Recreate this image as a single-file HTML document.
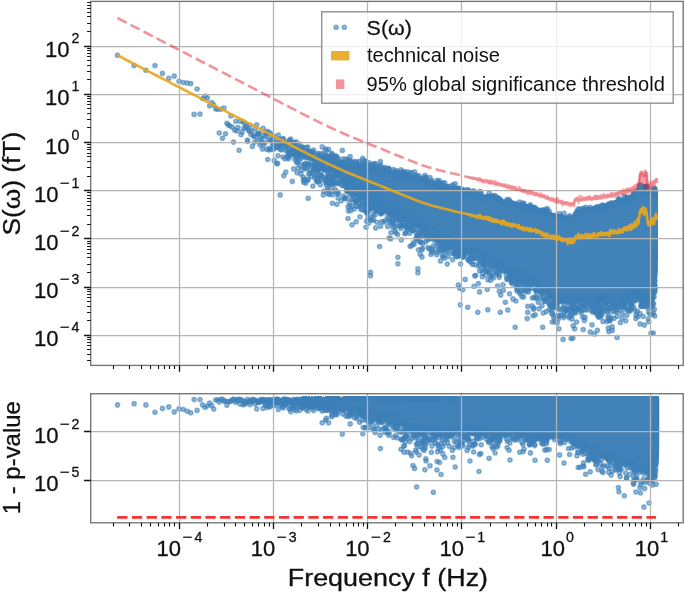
<!DOCTYPE html>
<html><head><meta charset="utf-8"><title>S(ω) spectrum</title>
<style>html,body{margin:0;padding:0;background:#fff}svg{display:block}text{font-family:"Liberation Sans",sans-serif}</style></head>
<body>
<svg width="685" height="593" viewBox="0 0 685 593">
<defs>
<marker id="m" markerUnits="userSpaceOnUse" markerWidth="8" markerHeight="8" refX="4" refY="4" overflow="visible"><circle cx="4" cy="4" r="2" fill="#3e81b9" fill-opacity=".52" stroke="#3e81b9" stroke-opacity=".6" stroke-width="1.6"/></marker>
<clipPath id="ct"><rect x="90.7" y="1.4" width="592.5" height="364"/></clipPath>
<clipPath id="cb"><rect x="90.7" y="393.7" width="592.5" height="129.1"/></clipPath>
</defs>
<rect width="685" height="593" fill="#fff"/>
<g clip-path="url(#ct)">
<path fill="#4182b8" shape-rendering="crispEdges" d="M300 150.5v4h1v-4zM307 153v4h1v-4zM308 151.5v4h1v-4zM309 151.5v3.5h1v-3.5zM309 155.5v3.5h1v-3.5zM310 151.5v7h1v-7zM311 151.5v8.5h1v-8.5zM312 153.5v6.5h1v-6.5zM313 156v3.5h1v-3.5zM318 157v3h1v-3zM319 156.5v4.5h1v-4.5zM320 156v6h1v-6zM321 156.5v6h1v-6zM322 156.5v6.5h1v-6.5zM323 156.5v7h1v-7zM324 156.5v7h1v-7zM324 167v3.5h1v-3.5zM325 157.5v6h1v-6zM325 167v3h1v-3zM326 156.5v5h1v-5zM328 167v3h1v-3zM329 166.5v4.5h1v-4.5zM330 166v5.5h1v-5.5zM331 166.5v5h1v-5zM332 158.5v12h1v-12zM333 157v7h1v-7zM333 164.5v5.5h1v-5.5zM334 160.5v10h1v-10zM335 161.5v11h1v-11zM336 163v10h1v-10zM337 163v13h1v-13zM338 162.5v14h1v-14zM339 163v14h1v-14zM340 162.5v16.5h1v-16.5zM341 161v19h1v-19zM342 162.5v18h1v-18zM343 162.5v18.5h1v-18.5zM344 164v21.5h1v-21.5zM345 164.5v21.5h1v-21.5zM346 165v21h1v-21zM347 165.5v26.5h1v-26.5zM348 165v15h1v-15zM348 180.5v3h1v-3zM348 187.5v5.5h1v-5.5zM349 164v15.5h1v-15.5zM349 180v5h1v-5zM349 187.5v5.5h1v-5.5zM350 161.5v17.5h1v-17.5zM350 182v4h1v-4zM350 187.5v3.5h1v-3.5zM351 162v19.5h1v-19.5zM351 183v5h1v-5zM352 164v12h1v-12zM352 177.5v10.5h1v-10.5zM353 164.5v24h1v-24zM354 165v24h1v-24zM355 166v22.5h1v-22.5zM356 164.5v25h1v-25zM357 164.5v23.5h1v-23.5zM358 166.5v21.5h1v-21.5zM358 191v6.5h1v-6.5zM359 166.5v32h1v-32zM360 165v25.5h1v-25.5zM360 191.5v7.5h1v-7.5zM361 164.5v26h1v-26zM361 193.5v5.5h1v-5.5zM362 164v26.5h1v-26.5zM362 193v6h1v-6zM363 164v5h1v-5zM363 171v20.5h1v-20.5zM363 193v5.5h1v-5.5zM364 163.5v5.5h1v-5.5zM364 171v27h1v-27zM365 165v3.5h1v-3.5zM365 171.5v25h1v-25zM366 171v25.5h1v-25.5zM366 201.5v3.5h1v-3.5zM367 166v30h1v-30zM367 201v4.5h1v-4.5zM368 165v32.5h1v-32.5zM369 165v33.5h1v-33.5zM370 165v33h1v-33zM371 165v35.5h1v-35.5zM372 167.5v35.5h1v-35.5zM373 167.5v36h1v-36zM374 168v37h1v-37zM375 168.5v26.5h1v-26.5zM375 198.5v7.5h1v-7.5zM376 168v27.5h1v-27.5zM376 201v4.5h1v-4.5zM377 168v28.5h1v-28.5zM377 206.5v3h1v-3zM378 168v29.5h1v-29.5zM378 200.5v9.5h1v-9.5zM379 168.5v29.5h1v-29.5zM379 200.5v10h1v-10zM380 168v29.5h1v-29.5zM380 201v9.5h1v-9.5zM381 168.5v34.5h1v-34.5zM381 205.5v3h1v-3zM382 169v32h1v-32zM382 204v3.5h1v-3.5zM382 210v3h1v-3zM383 172v30h1v-30zM383 202.5v5h1v-5zM384 171.5v34h1v-34zM384 206v5h1v-5zM385 169.5v42h1v-42zM386 167.5v43.5h1v-43.5zM387 167.5v44h1v-44zM388 170v42h1v-42zM389 170.5v43h1v-43zM390 174.5v33h1v-33zM390 211v3h1v-3zM391 173.5v33.5h1v-33.5zM392 173v34.5h1v-34.5zM393 173v34.5h1v-34.5zM393 211v3h1v-3zM394 172v35h1v-35zM394 211v4h1v-4zM395 171.5v34h1v-34zM395 209v5h1v-5zM396 172v32.5h1v-32.5zM396 208v6h1v-6zM397 172v32.5h1v-32.5zM397 206v7.5h1v-7.5zM398 172v40.5h1v-40.5zM399 174.5v37.5h1v-37.5zM400 175.5v40.5h1v-40.5zM401 172v3h1v-3zM401 175.5v43h1v-43zM402 171v4.5h1v-4.5zM402 176v43h1v-43zM403 171v49h1v-49zM404 171.5v49h1v-49zM405 171.5v49h1v-49zM406 173v47.5h1v-47.5zM407 174v46.5h1v-46.5zM408 176v39h1v-39zM409 176.5v37h1v-37zM409 219.5v3.5h1v-3.5zM410 177v39h1v-39zM410 217v8h1v-8zM411 176.5v48.5h1v-48.5zM412 176.5v48h1v-48zM413 176.5v48.5h1v-48.5zM414 176v50h1v-50zM415 176v50h1v-50zM416 176v51h1v-51zM417 176.5v51h1v-51zM418 177.5v50.5h1v-50.5zM419 178.5v44h1v-44zM419 223v5h1v-5zM420 179v43h1v-43zM420 223v6h1v-6zM421 179v43.5h1v-43.5zM421 223.5v3.5h1v-3.5zM422 178.5v45.5h1v-45.5zM423 178v48h1v-48zM424 177.5v49.5h1v-49.5zM425 178v49.5h1v-49.5zM426 179v51h1v-51zM427 181v50h1v-50zM428 182v49.5h1v-49.5zM428 234v5h1v-5zM429 181.5v50h1v-50zM429 232.5v6.5h1v-6.5zM430 181.5v50h1v-50zM430 232.5v6.5h1v-6.5zM431 182.5v56h1v-56zM432 182.5v55h1v-55zM433 182.5v54.5h1v-54.5zM434 182.5v53h1v-53zM435 183v52.5h1v-52.5zM436 182.5v53h1v-53zM436 236v3h1v-3zM437 183v57h1v-57zM438 184v52h1v-52zM439 183.5v53h1v-53zM440 184v55.5h1v-55.5zM441 184.5v56h1v-56zM442 184v57.5h1v-57.5zM442 242v4h1v-4zM443 185v61h1v-61zM444 186v62h1v-62zM445 185.5v57.5h1v-57.5zM446 186v55h1v-55zM446 241.5v4.5h1v-4.5zM447 186v55.5h1v-55.5zM448 186.5v54h1v-54zM449 187v54h1v-54zM449 243.5v3h1v-3zM450 187.5v59.5h1v-59.5zM451 188v54.5h1v-54.5zM452 187.5v59h1v-59zM453 188.5v58.5h1v-58.5zM454 188.5v59.5h1v-59.5zM455 188.5v60.5h1v-60.5zM456 189v66h1v-66zM457 189v62.5h1v-62.5zM458 189v62h1v-62zM459 188.5v62.5h1v-62.5zM460 188v64.5h1v-64.5zM461 188.5v63.5h1v-63.5zM462 189v63h1v-63zM463 190v63.5h1v-63.5zM464 190v63.5h1v-63.5zM465 190v63.5h1v-63.5zM466 190.5v63h1v-63zM467 190v63.5h1v-63.5zM468 190v63h1v-63zM469 190.5v63h1v-63zM470 192v61h1v-61zM471 192v61h1v-61zM472 193.5v59.5h1v-59.5zM473 192.5v60.5h1v-60.5zM474 192.5v60h1v-60zM475 192.5v60h1v-60zM476 193v60h1v-60zM477 193v62.5h1v-62.5zM478 193.5v63.5h1v-63.5zM479 193.5v64.5h1v-64.5zM480 194v64.5h1v-64.5zM481 195v63.5h1v-63.5zM482 195v63h1v-63zM482 259.5v3.5h1v-3.5zM483 195.5v69.5h1v-69.5zM484 195.5v69.5h1v-69.5zM485 196v68h1v-68zM486 196.5v63.5h1v-63.5zM487 196v64.5h1v-64.5zM488 195.5v64.5h1v-64.5zM489 195.5v65.5h1v-65.5zM490 195v67h1v-67zM491 195.5v67h1v-67zM492 195.5v66.5h1v-66.5zM493 196v67.5h1v-67.5zM494 196v68.5h1v-68.5zM495 196.5v69h1v-69zM496 197v69h1v-69zM497 197.5v70h1v-70zM498 197.5v72.5h1v-72.5zM499 197.5v73.5h1v-73.5zM500 198.5v72.5h1v-72.5zM501 199.5v65h1v-65zM501 266v5h1v-5zM502 200v71h1v-71zM503 200v71h1v-71zM504 200v72h1v-72zM505 200v71.5h1v-71.5zM506 200v71.5h1v-71.5zM507 200v72h1v-72zM508 200.5v71.5h1v-71.5zM509 201.5v70.5h1v-70.5zM510 201.5v71.5h1v-71.5zM511 202v72h1v-72zM512 202.5v72.5h1v-72.5zM513 203v74.5h1v-74.5zM514 203v76h1v-76zM515 203.5v71.5h1v-71.5zM516 203.5v71h1v-71zM517 203v74.5h1v-74.5zM518 203.5v71.5h1v-71.5zM518 275.5v3h1v-3zM519 204v71h1v-71zM519 275.5v6.5h1v-6.5zM520 203.5v79h1v-79zM521 204v79h1v-79zM522 205v70h1v-70zM522 276v7h1v-7zM523 204.5v78.5h1v-78.5zM524 204.5v79h1v-79zM525 205v78h1v-78zM526 205v78.5h1v-78.5zM526 288v3h1v-3zM527 205.5v75h1v-75zM527 287.5v3.5h1v-3.5zM528 205v75.5h1v-75.5zM529 205v79h1v-79zM530 205.5v79h1v-79zM531 206v79h1v-79zM532 206v78h1v-78zM533 206v78h1v-78zM534 206.5v77.5h1v-77.5zM535 207v77h1v-77zM536 207.5v78h1v-78zM536 286.5v5h1v-5zM537 208v77.5h1v-77.5zM537 286.5v5h1v-5zM538 209v82.5h1v-82.5zM539 209v82h1v-82zM540 209v82h1v-82zM541 209v82h1v-82zM542 209.5v81h1v-81zM543 209v81.5h1v-81.5zM544 209.5v82.5h1v-82.5zM545 209.5v82.5h1v-82.5zM546 210v82.5h1v-82.5zM547 210v83.5h1v-83.5zM548 211v83.5h1v-83.5zM549 212v82.5h1v-82.5zM549 295v3h1v-3zM550 213v83h1v-83zM551 213.5v84.5h1v-84.5zM552 213.5v85h1v-85zM553 214.5v85.5h1v-85.5zM554 215v86h1v-86zM555 215v88.5h1v-88.5zM556 215.5v88h1v-88zM557 215.5v88h1v-88zM558 215.5v87.5h1v-87.5zM559 215v86h1v-86zM560 215.5v85.5h1v-85.5zM561 216v85h1v-85zM562 216.5v84.5h1v-84.5zM563 217v84.5h1v-84.5zM564 217v85h1v-85zM565 217v84.5h1v-84.5zM566 217v85h1v-85zM567 217v85h1v-85zM568 217.5v83.5h1v-83.5zM569 217v83h1v-83zM570 217v83.5h1v-83.5zM571 217v84.5h1v-84.5zM572 216.5v85.5h1v-85.5zM573 215.5v87h1v-87zM573 308v3h1v-3zM574 213.5v88.5h1v-88.5zM574 307.5v4h1v-4zM575 212.5v89h1v-89zM575 307v4.5h1v-4.5zM576 211.5v89.5h1v-89.5zM576 308v3h1v-3zM577 210.5v89.5h1v-89.5zM578 210.5v90.5h1v-90.5zM579 210.5v90.5h1v-90.5zM580 210.5v90h1v-90zM581 209.5v91h1v-91zM582 209v91h1v-91zM583 209v91.5h1v-91.5zM584 209v90h1v-90zM585 209v90.5h1v-90.5zM586 209v92.5h1v-92.5zM587 209v92.5h1v-92.5zM588 208v93.5h1v-93.5zM589 208v94.5h1v-94.5zM590 207.5v96.5h1v-96.5zM591 207.5v98.5h1v-98.5zM592 207.5v98.5h1v-98.5zM593 207.5v97.5h1v-97.5zM594 206.5v99h1v-99zM595 206v99h1v-99zM596 206v100.5h1v-100.5zM597 206v101h1v-101zM598 206.5v101h1v-101zM599 206.5v96h1v-96zM600 205.5v95h1v-95zM601 205.5v95h1v-95zM602 205.5v94.5h1v-94.5zM603 205.5v93.5h1v-93.5zM604 205v98.5h1v-98.5zM605 205v94h1v-94zM605 299.5v4.5h1v-4.5zM606 204.5v93.5h1v-93.5zM606 299v5.5h1v-5.5zM607 204v94h1v-94zM607 299v5h1v-5zM608 203.5v100h1v-100zM609 203v97h1v-97zM610 202.5v100h1v-100zM611 203v100.5h1v-100.5zM612 203v101.5h1v-101.5zM613 202v102h1v-102zM614 202v101.5h1v-101.5zM615 201v101.5h1v-101.5zM616 200.5v102.5h1v-102.5zM617 200v103h1v-103zM618 199.5v104h1v-104zM619 199v104h1v-104zM620 199v104h1v-104zM621 199v104.5h1v-104.5zM622 199v101.5h1v-101.5zM622 301v5.5h1v-5.5zM623 198.5v101.5h1v-101.5zM623 300.5v6.5h1v-6.5zM624 198v102h1v-102zM624 300.5v7h1v-7zM625 197.5v103h1v-103zM625 301.5v5h1v-5zM626 197v103.5h1v-103.5zM627 196.5v103.5h1v-103.5zM628 196.5v104h1v-104zM629 196.5v103.5h1v-103.5zM630 196.5v103h1v-103zM631 195v102.5h1v-102.5zM632 194.5v103.5h1v-103.5zM633 193.5v107.5h1v-107.5zM634 192v109h1v-109zM635 191.5v109.5h1v-109.5zM636 190.5v104h1v-104zM636 296.5v4h1v-4zM637 189.5v104.5h1v-104.5zM638 187v105h1v-105zM639 186v107.5h1v-107.5zM640 185.5v106.5h1v-106.5zM641 185.5v109.5h1v-109.5zM642 186.5v109.5h1v-109.5zM642 296.5v6.5h1v-6.5zM643 187.5v108.5h1v-108.5zM643 296.5v8h1v-8zM644 188.5v117h1v-117zM645 189.5v113.5h1v-113.5zM646 190.5v105.5h1v-105.5zM646 296.5v9h1v-9zM647 190.5v105.5h1v-105.5zM647 296.5v6.5h1v-6.5zM648 190.5v109h1v-109zM649 190v112h1v-112zM650 189.5v112h1v-112zM651 189v109.5h1v-109.5zM652 188.5v110h1v-110zM653 187.5v109.5h1v-109.5zM654 188v107.5h1v-107.5zM655 188.5v104.5h1v-104.5zM656 189v88h1v-88zM657 194v59h1v-59z"/>
<path fill="#4182b8" d="M658 194H656.5Q657.7 194 657.7 195.6V251.4Q657.7 253 656.5 253H658z"/>
<polyline fill="none" stroke="none" marker-start="url(#m)" marker-mid="url(#m)" marker-end="url(#m)" points="117.5,55.3 134.1,65.6 145.9,70.2 155,65.6 162.4,73.4 168.8,78.3 174.2,76.1 179,81.2 183.4,82.6 187.3,83.1 190.8,83.6 194.1,114.4 197.1,89 200,114.1 202.6,98.5 205.1,96.1 207.4,97.9 209.6,105.8 211.7,102.5 213.7,104.7 215.6,108.7 217.5,109.3 219.2,133 220.9,109.3 222.5,138.2 224,108 225.5,133.8 226.9,123.3 228.3,124.7 229.7,126 231,116 232.2,127.1 233.5,142.1 234.6,129.9 235.8,121.3 236.9,130.9 238,127.6 239.1,150.2 240.1,121.3 241.1,134.8 242.1,131.9 243.1,121.8 244,128.3 244.9,123.4 245.8,127.2 246.7,126.1 247.6,141.5 248.4,130.1 249.2,131.1 250.1,125.4 250.9,134.5 251.6,130.8 252.4,146.4 253.1,135.1 253.9,136.8 254.6,142.3 255.3,128.9 256,136.7 256.7,124.7 257.4,133.7 258.1,133.7 258.7,133.5 259.4,133.2 260,145 260.6,137.8 261.2,142.6 261.8,139.1 262.4,149.1 263,128.2 263.6,144.5 264.2,135.5 264.7,142.7 265.3,132.3 265.8,136.5 266.4,149.2 266.9,133.7 267.4,131.2 268,132.7 268.5,139.3 269,149.9 269.5,148.3 270,132.9 270.5,140.5 271,149.5 271.4,134.8 271.9,139.7 272.4,141.1 272.8,145 273.3,144.5 273.8,148.9 274.2,160.4 274.6,136.5 275.1,144.3 275.5,143 275.9,147.8 276.4,139.8 276.8,163.8 277.2,147.2 277.6,163.3 278,155.8 278.4,135 278.8,142.7 279.2,147 279.6,145.4 280,139 280.4,149.4 280.8,144.8 281.1,143.3 281.5,149.7 281.9,146.6 282.3,142.3 282.6,139.1 283,157 283.3,138.6 283.7,175.8 284,143.3 284.4,142.3 284.7,158.7 285.1,150.1 285.4,142.7 285.8,172.1 286.1,146.6 286.4,143.6 286.8,149.1 287.1,145.2 287.4,156.4 287.7,157.6 288,152.9 288.4,158.7 288.7,153.6 289,140.3 289.3,149.1 289.6,154.3 289.9,156.3 290.2,140.7 290.5,152.3 290.8,139.1 291.1,151.1 291.4,151.2 291.7,143.3 292,147.1 292.3,150.4 292.5,153.7 292.8,144.4 293.1,154.3 293.4,143.2 293.7,168.9 293.9,154.3 294.2,152.6 294.5,142.5 294.8,159.6 295,147.1 295.3,150 295.6,149.3 295.8,151.1 296.1,141.9 296.3,158 296.6,156.4 296.9,162.5 297.1,172.8 297.4,162.4 297.6,145.2 297.9,147.6 298.1,168 298.4,152.9 298.6,155.6 298.9,153.3 299.1,152.1 299.3,160.3 299.6,144 299.8,156.5 300.1,153.2 300.3,153.1 300.5,165.4 300.8,173.9 301,158.3 301.2,150.8 301.5,149.7 301.7,151.7 301.9,170.1 302.1,147.1 302.4,150.4 302.6,148.5 302.8,156.6 303,147.4 303.2,177 303.5,179.7 303.7,182.2 303.9,164.3 304.1,164.6 304.3,167.2 304.5,156.4 304.7,179 305,156.1 305.2,168.7 305.4,154.4 305.6,183.1 305.8,163.3 306,147.6 306.2,157.8 306.4,151.8 306.6,155.4 306.8,156.5 307,168.4 307.2,157.4 307.4,180.4 307.6,152.5 307.8,147.1 308,151.3 308.2,179.4 308.4,163.7 308.6,164.4 308.8,173.9 309,157 309.1,153.2 309.3,164.9 309.5,151.6 309.7,153.4 309.9,173.3 310.1,154.3 310.3,151.3 310.5,169.8 310.6,158.9 310.8,157.5 311,158.2 311.2,176.5 311.4,157.2 311.5,158 311.7,153.5 311.9,154.1 312.1,165.8 312.2,156.2 312.4,152.5 312.6,151.8 312.8,172.8 312.9,186.1 313.1,158.2 313.3,170.4 313.5,160.3 313.6,150 313.8,165 314,169.2 314.1,163.1 314.3,158.5 314.5,177.8 314.6,165.4 314.8,175.5 315,158.7 315.1,154.6 315.3,165.8 315.5,166 315.6,161.8 315.8,171.6 315.9,170.4 316.1,167.5 316.3,164 316.4,180.8 316.6,157.2 316.7,161.3 316.9,168.9 317,181.6 317.2,157.2 317.4,177 317.5,177 317.7,177.2 317.8,181.6 318,153.2 318.1,170.6 318.3,169.3 318.4,155.8 318.6,161.1 318.7,174.4 318.9,165.8 319,154.4 319.2,167.6 319.3,159.3 319.5,180.9 319.6,159 319.8,157.8 319.9,156.5 320.1,160.4 320.2,168.1 320.3,184.7 320.5,164.3 320.6,158.6 320.8,175.2 320.9,172 321.1,164.1 321.2,159 321.3,154.7 321.5,179.6 321.6,176 321.8,157.9 321.9,161.8 322,160 322.2,146.9 322.3,153.2 322.5,156.9 322.7,168.5 322.9,162.3 323,176.6 323.4,160.6 323.5,167.5 323.7,169.5 323.8,168.3 323.9,191.2 324.1,157.5 324.2,165.2 324.3,169.5 324.5,165.2 324.6,161 324.7,169.8 324.8,158.2 325,155.1 325.1,169.8 325.2,180.6 325.4,160.3 325.5,149.1 325.6,180.1 325.7,161.7 325.9,158.7 326,155.4 326.1,182.1 326.2,185 326.4,150.5 326.5,182.8 326.6,178.8 326.7,165.4 326.9,168.9 327,161.1 327.1,178.3 327.2,156 327.4,177.1 327.5,160.8 327.6,188.4 327.7,168.5 327.8,193.6 328,173.4 328.1,173.5 328.2,162.4 328.3,169.2 328.4,190.1 328.6,149.3 328.7,157.5 328.8,156.5 328.9,176.5 329,171.3 329.1,177.5 329.3,183.6 329.4,194.4 329.5,168.4 329.6,183.9 329.7,180.4 329.8,158.9 329.9,169.1 330.1,180.1 330.2,164.4 330.3,176.3 330.4,168.1 330.5,175.7 330.6,168.5 330.7,165.7 330.8,168.1 331,172 331.1,161.5 331.2,158.9 331.3,180.9 331.4,183.8 331.5,185.7 331.6,153.2 331.7,156.2 331.8,178.5 331.9,154.3 332.1,179.7 332.2,169.4 332.3,169.7 332.4,157.7 332.5,194.7 332.6,175.4 332.7,167.1 332.8,191.3 332.9,178.8 333,170.9 333.1,159.3 333.2,163.1 333.3,161.2 333.4,163.2 333.5,164.7 333.6,160.6 333.8,165.4 333.9,164 334,176.5 334.1,182.9 334.2,163.6 334.3,183.2 334.4,158.1 334.5,167.9 334.6,175.8 334.7,157.4 334.8,184.1 334.9,170.2 335,189.6 335.1,155.6 335.2,168.7 335.3,162.6 335.4,177.9 335.5,162.7 335.6,165.5 335.8,156.9 335.9,172.9 336,173.5 336.2,161.9 336.3,176.3 336.5,181.7 336.6,169.9 336.7,164.1 336.8,193.5 336.9,204.3 337,156.7 337.1,172.4 337.2,174.2 337.4,171 337.6,191.7 337.9,158.6 338,197.9 338.1,173.2 338.4,193.4 338.6,182 338.6,183.4 338.7,161.2 338.8,183.4 338.9,173.5 339.3,163.8 339.6,163.5 339.8,175.3 340,175.7 340.2,176.3 340.5,177.9 340.6,163.6 340.7,176.5 340.8,163.1 341.1,200.7 341.2,176.4 341.3,162.7 341.9,185.6 342,180.3 342.1,180.3 342.3,150.4 342.3,178.1 342.5,177.6 342.7,159.1 342.8,162.1 342.9,181.8 343,162.3 343.3,196 343.3,163.1 343.4,180.1 343.6,185.5 343.7,164.6 343.8,164.6 344,166.6 344.3,185.6 344.4,180.3 344.6,166.7 344.6,198.7 344.8,165.3 345,198.1 345.1,183.6 345.4,183.2 345.7,186.1 345.8,158.9 345.9,182 346,181.4 346,183.5 346.1,198.1 346.3,167.2 346.4,186.9 346.5,190.9 346.6,181 346.7,167.4 346.8,161.7 347,167.5 347.2,180.4 347.3,184 347.5,191 347.7,191.5 347.8,191.4 347.9,188.8 347.9,183.1 348,159.5 348.1,206.7 348.1,188.3 348.2,189.6 348.4,211 348.4,177 348.5,189.9 348.6,184 348.7,167.3 348.7,188.5 348.9,178.8 348.9,178.5 349,166.6 349.1,190.2 349.2,162.3 349.2,163.8 349.4,202.2 349.7,187.2 349.7,160.6 349.8,164.2 349.9,194.4 349.9,182.6 350,205.9 350.1,166.4 350.1,163 350.2,156.6 350.5,174.4 350.6,161 350.7,182 350.8,176.1 350.8,210.6 351,179.1 351.1,166.1 351.2,182.2 351.3,199.2 351.4,193.4 351.4,189.6 351.5,183.6 351.6,178.4 351.6,162.9 351.7,184.7 351.8,164.4 351.9,166.3 352,180 352,224.7 352.2,186.4 352.2,192.8 352.4,188.3 352.5,185.5 352.6,162.5 352.6,185.5 352.8,194.1 352.9,195.2 353,176.8 353,206.3 353.1,175.9 353.2,199 353.3,185.5 353.4,174.3 353.5,183.9 353.5,173.7 353.6,178.9 353.7,166.5 354.2,181.3 354.2,209 354.3,161.4 354.4,189.4 354.7,167 354.9,200.5 355,188.7 355.1,186.2 355.1,191.6 355.2,202.3 355.3,189.1 355.4,164.5 355.5,186.3 355.7,201.1 355.7,195.5 355.8,166.4 356,202.1 356.1,167.2 356.2,167.2 356.2,221.7 356.5,201.5 356.5,187 356.7,161.8 356.9,206.2 357,193.6 357,200.6 357.2,163.1 357.7,190.9 357.9,193 358,195.4 358.3,187.3 358.5,198.1 358.7,165.5 358.7,198.8 358.8,188.5 358.8,192.8 358.9,166.3 359,206.4 359.1,191.7 359.2,165.8 359.3,202.8 359.3,193.1 359.6,195.4 359.7,161.2 359.8,197.7 359.9,186.2 360,216.7 360.1,168.4 360.2,194 360.4,193.9 360.4,195.8 360.5,187.4 360.5,205.6 360.6,190.8 360.6,196.7 360.9,209.2 361,172.6 361.1,189 361.2,172.7 361.3,168.1 361.3,166.7 361.5,189.2 361.7,165.8 361.8,195.8 361.9,197 362,163.1 362.1,197.3 362.1,167.5 362.2,199.8 362.2,201 362.3,165.9 362.4,209.9 362.4,167 362.5,204.3 362.8,158.2 362.9,195.3 362.9,171.4 363.1,172.4 363.1,168.5 363.2,160.4 363.2,189.2 363.3,165.9 363.4,165.8 363.5,166.1 363.9,196.9 363.9,205.5 364.1,172.1 364.2,191.3 364.2,191.1 364.3,189 364.4,173.5 364.5,193.9 364.6,200.2 364.8,210.5 365,190.4 365.2,196.3 365.3,203.6 365.3,164.5 365.4,193.2 365.4,190.5 365.5,193.3 365.5,161.3 365.7,161.6 365.7,166.2 365.8,209.1 366,227.3 366.1,210.6 366.2,204.5 366.2,193.5 366.3,205.1 366.4,211.8 366.4,167.9 366.5,193.4 366.6,221.3 366.7,165.8 366.7,169.5 366.8,202.4 366.9,212.8 367,213.5 367.1,199.2 367.2,201.7 367.2,196.8 367.2,169.4 367.4,203.4 367.6,201.9 367.7,166.8 367.9,218 368,170.2 368,206.1 368.1,199.2 368.3,195.7 368.3,211.4 368.4,171.9 368.4,164.7 368.5,171.4 368.7,223.1 368.8,194.5 368.9,171.4 369,170.2 369.1,168.1 369.2,202.8 369.2,209.6 369.3,162.8 369.3,208.2 369.5,167.4 369.6,200.1 369.7,197.9 370,219.2 370.2,165.5 370.3,208.2 370.4,208.2 370.5,217.3 370.7,196.8 370.8,167.2 371.2,169.5 371.3,208.9 371.5,206.9 371.6,203.5 371.7,167.3 371.7,165.3 371.8,196.8 371.9,166.6 372.2,200.9 372.3,200.7 372.4,199.6 372.4,220.5 372.5,200.2 372.6,196.4 372.7,195.4 373,193.3 373.3,204.4 373.3,200.3 373.4,164.1 373.4,214.6 373.5,168.1 373.5,219.8 373.6,198.5 373.6,195.3 373.6,205.5 373.8,203 374,200.4 374.2,202.6 374.4,193.3 374.4,164.1 374.6,197.8 375.1,170.2 375.1,169.5 375.1,214.9 375.2,163.6 375.3,207.7 375.3,210.9 375.4,197.5 375.6,170.3 375.7,227.9 375.8,168.7 375.8,202.7 376,192.3 376.1,206.7 376.1,202.8 376.2,200.4 376.4,209.9 376.5,166.5 376.6,205.2 376.8,210.2 376.9,197.3 377,193.7 377.1,222.3 377.2,197.6 377.4,192.8 377.5,206.6 377.6,211.1 377.8,170.1 378.1,169.2 378.1,193.3 378.2,202.7 378.4,206.9 378.4,209.6 378.5,169.2 378.6,202.8 378.7,203.1 378.8,195.2 378.9,200.3 379,166.2 379.1,207.2 379.2,194.6 379.3,207.6 379.4,197.5 379.4,207.7 379.6,195 379.6,246.5 379.7,169.9 379.8,210.9 379.9,169.5 380.1,206.1 380.1,202.5 380.2,164.7 380.3,171.2 380.4,161.5 380.5,203.5 380.6,199.1 380.6,226.2 380.8,213.9 380.8,207.2 380.9,212.6 381,213.3 381,196.5 381.1,204 381.2,212.8 381.2,172 381.2,200.3 381.4,172.2 381.5,209.5 381.5,169.5 381.6,221.5 381.6,200.1 381.8,167.1 382,196.5 382.1,202.2 382.5,171 382.5,203.2 382.5,170.6 382.7,195.7 382.8,199 382.9,211.7 383.1,208.9 383.2,197.8 383.4,208.5 383.5,173.8 383.5,212.5 384,222.1 384.2,210.6 384.3,206.9 384.3,204.8 384.4,205.2 384.5,205.7 384.6,168.7 384.7,203.8 384.9,204.4 385,167.5 385.1,169.2 385.3,220.6 385.7,200.6 385.7,209 385.8,173.2 386.2,203 386.4,169.6 386.5,208.9 386.6,209.7 386.9,169 387,204.5 387.1,171.9 387.3,174.8 387.4,168.6 387.5,216.7 387.5,173.7 387.6,208.1 387.7,226.4 387.9,168.9 388,212.2 388.1,208.2 388.1,172.7 388.4,211.6 388.6,208 388.7,168.2 388.8,218.4 388.9,175.2 389.1,238 389.2,169.1 389.2,212.5 389.3,212.9 389.5,172.5 389.6,211.2 389.6,213.4 389.8,222.1 389.8,208.6 390.1,221.1 390.5,205.2 390.6,173.6 390.6,174.6 390.7,172.7 390.8,238.7 390.9,211.7 391,232.8 391.3,214.1 391.8,204.4 391.9,207.4 392,223.3 392.1,206.7 392.1,218.6 392.5,213.5 392.5,174.8 392.8,218.2 392.8,227.2 392.9,172.3 393,215.6 393.1,204 393.2,224.6 393.4,222.3 393.5,169.6 393.5,216.8 393.6,205.1 393.7,204.5 393.8,210.8 394.1,204.7 394.2,208.6 394.4,173.2 394.5,175 394.6,214 394.7,211.2 394.8,209.9 395,220.3 395,214.8 395,174.4 395,231.1 395.1,202.2 395.1,227 395.2,213.3 395.5,212 395.7,202.8 395.7,218 395.7,171 395.8,173.6 395.8,232.8 395.9,211 396,206.5 396.1,204.2 396.5,209.2 396.6,173.4 396.6,173.2 396.7,202 396.7,212.7 396.8,225.7 396.8,176.2 397.3,209.7 397.3,171 397.3,174.5 397.3,219.6 397.4,176.2 397.4,208.3 397.5,217.4 397.7,234.6 397.8,210.1 398.1,212.6 398.2,175.1 398.3,212.4 398.6,215.3 398.7,220.5 399.2,208.6 399.2,205.6 399.3,207.1 399.5,205 399.6,206 399.6,215.9 399.7,174.2 399.9,173.7 400,225.9 400,205.1 400.1,176.8 400.1,223.9 400.3,209.4 400.3,215.9 400.3,177.1 400.5,212.5 400.6,219 400.8,214.8 400.9,228.4 401,169.8 401.1,220.2 401.1,172.2 401.3,239.9 401.3,226 401.4,215.6 401.5,210.4 401.5,213.4 401.7,210.3 401.8,211.3 402,178 402,220.1 402,172.3 402.2,211.3 402.2,224.8 402.3,219.2 402.4,174.8 402.5,216.3 402.8,224.1 403.3,173.2 403.5,173.2 403.6,176.6 403.7,171.5 404.3,225.8 404.4,219.2 404.4,172 404.6,217.3 404.6,174 404.8,219.3 404.9,233.8 405,176.2 405.2,174.9 405.3,217.2 405.4,215.2 405.5,173.3 405.5,225.6 405.7,233 405.8,213.7 405.8,213.3 405.9,177.2 406,174.8 406,217.9 406.1,220.5 406.2,212.9 406.4,216.1 406.4,227 406.6,175.4 406.7,217.7 406.7,230.4 406.9,221.2 407,225.6 407.1,177.3 407.2,175.7 407.2,217.5 407.3,227.6 407.5,175 407.6,171.9 407.7,228 407.9,178.4 408.3,214 408.4,212.1 408.9,223.3 408.9,224.8 409.1,218.8 409.3,224.7 409.6,233.3 409.6,178.7 409.8,175.1 409.9,228.2 409.9,213.3 410,219.8 410.1,246.2 410.2,218 410.3,178.3 410.3,210.9 410.6,172.9 410.9,214.4 411,215.8 411,221.6 411.2,219.2 411.2,220.1 411.3,178.7 411.4,221.5 411.5,222.7 411.6,229.3 411.6,172.8 411.7,245.7 411.8,225.1 411.8,226.6 412,217.1 412,224 412,213.5 412.1,230.7 412.2,176.9 412.4,214.4 412.5,218.6 412.6,217.9 412.9,177.8 413.3,178.7 413.3,242.8 413.4,230.5 414,229 414.1,244.2 414.6,171.9 415,222.9 415.2,224.8 415.5,222.8 415.5,175.4 415.7,222.9 415.8,179 416,224.7 416.1,239.1 416.1,232.4 416.2,224.3 416.2,178.6 416.3,177 416.3,175.4 416.5,224 416.5,237.7 416.7,225.3 416.8,236.1 417,220.7 417.5,225.2 417.6,177.8 417.6,236.2 417.7,177 418,180 418.2,231.2 418.2,240.7 418.2,223.4 418.4,249.7 418.5,222.9 418.6,178.9 418.6,227 418.7,224.8 418.7,226.6 418.7,233.1 418.8,219.6 418.8,219.4 419.1,175.9 419.3,223.5 419.4,180.9 419.7,225.7 419.8,225.9 419.9,236.3 420.1,254.2 420.2,221.7 420.2,235.9 420.5,228.2 420.5,242.1 420.7,242 420.9,181 421,219.3 421.4,227.7 421.8,179.8 421.8,179.2 421.9,230.4 421.9,227.2 422,256.9 422.1,249.7 422.2,223 422.3,248.3 422.6,226 422.6,233.3 422.8,243.4 422.8,224.4 422.8,178.4 423.1,180.4 423.2,233.7 423.4,180 423.5,230.7 423.6,236.2 423.6,231 424,222 424.1,223.5 424.1,178.5 424.3,223.9 424.5,179.8 424.7,181.7 424.9,175.4 425,230.5 425.3,182.6 425.4,179.4 425.5,224.1 425.7,227.6 425.8,177.5 425.8,241.6 425.8,225.1 426.1,177.2 426.1,236.4 426.4,181.7 426.5,228.7 427.1,227.2 427.2,231.4 427.4,229.1 427.4,230.2 427.5,235.9 427.7,181.4 427.7,226.1 427.8,226.7 427.8,232.7 427.8,239.8 427.8,236.2 427.9,247.5 428,182.1 428,236.7 428.2,182.4 428.9,183.5 429.2,238.4 429.2,249.1 429.3,234.9 429.4,182.8 429.6,236.2 429.7,238 429.8,232.1 430,177.6 430.2,237 430.6,235 430.7,232.2 430.8,238.5 430.9,231.4 430.9,237.3 431,254.5 431.1,248.4 431.4,180.4 431.5,233.4 432,181.8 432.1,251 432.1,183.4 432.1,183.2 432.2,252.4 432.5,229.5 432.6,236.3 432.6,231.6 432.7,229.3 432.8,233.3 432.8,232 433.4,246 433.9,240.1 434.2,236.9 434.3,238.7 434.5,185 434.6,234.8 434.8,235.7 435.1,184.3 435.2,183.4 435.5,185 435.5,234.7 435.5,184.9 435.8,249.4 436.1,238.9 436.3,185.7 436.6,244.1 436.7,254.7 436.8,237.1 437.1,239 437.1,180.2 437.5,252.5 437.5,183.8 437.6,182.1 437.7,234 438.1,240 438.1,183.7 438.5,243.1 438.6,183.1 438.7,236.3 438.8,237.8 439,233.7 439.2,248.8 439.3,238.9 439.5,237 439.6,180.7 439.6,240.1 439.6,245.9 439.6,233.7 439.8,186.6 439.8,185.9 440.5,260.9 440.6,183.3 440.6,250.6 440.8,247.8 441,243.8 441.1,184.8 441.4,251.1 441.5,236.9 441.6,242.8 441.8,242.1 441.9,237.4 442.1,187.2 442.3,245.2 442.4,256.3 442.5,186 442.6,246.2 442.7,241.6 442.7,237.7 442.8,240.5 442.9,184.6 442.9,183.1 443,246.2 443.4,255.9 443.6,250.1 443.8,248.9 444.1,243.2 444.2,185.7 444.2,240 444.7,258.1 444.7,244.2 444.8,182.9 444.9,247.1 444.9,245.6 445.3,187 445.7,241.7 445.9,188.1 446.1,250.9 446.1,242.1 446.3,243.8 446.6,187.8 446.7,246.9 446.9,239 447.2,187.3 447.3,252.3 447.3,264.1 447.3,239.2 447.6,186.6 447.8,243.7 447.8,237.8 447.9,238.7 448,242 448.1,188.5 448.2,189.2 448.2,256.4 448.3,246.1 448.4,188.7 449,247.5 449.3,186.2 449.5,248.2 449.7,238.8 450,247.4 450.5,246.8 450.6,189 450.6,244.7 450.9,243.1 450.9,189.7 451.1,244.1 451.1,189.6 451.5,252.8 451.7,241.1 452,242.3 452,244.1 452.4,186 452.5,189.3 452.6,259.7 452.9,184.8 453.3,246.7 453.4,241.2 453.8,253.3 453.8,254 453.9,190.3 454.1,246.2 454.2,244.2 454.4,188.5 454.5,187.2 454.7,249.2 454.8,253.2 454.8,251.4 454.9,245 455.2,183.8 455.5,245.5 455.7,249.7 455.8,246.3 456.1,256.4 456.4,254.8 456.5,188.9 456.5,250.5 457,249.2 457.4,253 457.5,256.4 457.6,190 458.1,251.6 458.2,188.3 458.3,285.1 458.5,251.2 458.8,255.8 458.9,188.2 459.4,188.9 459.7,288.2 459.8,255.2 459.9,249.7 460.2,189.5 460.3,249.4 460.5,190.3 460.6,264 461.7,189.5 461.7,250.2 461.8,189.9 461.9,253.6 461.9,192.2 462.3,251.1 462.6,191.6 462.6,251.1 462.9,257 462.9,257.3 463.1,189.5 463.5,255.1 463.8,190.9 464,256.1 464.1,250.5 464.4,250 464.6,252.5 464.9,192 465,252.5 465.2,279.4 465.5,192.6 466.5,251.1 467,191.9 467.1,189.5 467.8,251.7 467.9,192.5 468.1,259.5 468.1,192.5 468.1,254.6 468.2,259.9 468.2,251.7 468.6,190.4 468.7,192.5 468.8,259.5 469,192.1 469.3,191.2 469.9,250.7 470.1,252.3 470.3,261.8 470.3,250.5 470.4,258.4 470.7,261.7 470.8,194.7 470.9,256 471,255.5 471.4,194.6 471.6,252.8 471.7,252.6 471.8,257.5 472.6,264.5 472.8,249.8 472.9,192 473.1,191.8 473.2,258.3 473.3,193 473.6,195.3 473.6,190.7 473.7,251.7 473.8,195.2 474,250.6 474.1,286.2 474.5,251.7 474.7,258 474.7,275.8 474.7,258.6 474.9,257.4 474.9,264.6 474.9,192.7 475,254.2 475.1,192.6 475.7,275.6 476.5,194.5 477,250.5 477.2,251.4 477.3,195.1 477.4,195.7 477.5,194.5 477.8,253.1 477.9,253.3 478.3,266.1 478.4,283.6 478.6,255.8 478.6,251 478.8,259.2 478.9,254.4 478.9,254.1 479.2,196.3 479.2,196.1 479.4,191.5 479.6,271 479.6,260.9 479.6,291.9 479.7,255.5 479.8,265.1 479.9,261.2 480,195.2 480.2,258.5 480.2,255.5 480.5,255.7 480.8,192 480.9,255.7 481,197 481.2,194 481.2,197.2 481.9,270.1 482.1,255.7 482.2,196.2 482.3,276.7 482.5,256.3 482.7,264.4 482.8,273.3 482.9,197.7 483.2,261.9 483.3,257.9 483.4,262.1 483.7,262.5 484.1,261.5 484.2,265.4 484.4,259.5 484.5,260.7 484.5,256.5 484.7,263 484.8,268.3 484.8,270.1 484.8,265.2 485,257.2 485,197.4 485.2,197.3 485.4,264 485.4,197.5 485.7,258.7 485.9,275 486.4,197.3 486.5,198.7 486.6,259.4 486.6,196.5 486.8,271 487.2,289.5 487.5,259.4 487.9,279.7 488,271.4 488.2,265.3 488.3,262.8 488.5,257.5 488.8,196.3 488.8,261 488.9,196.5 489,272.2 489,261 489.1,193.1 489.5,257.5 489.5,259.2 489.6,269.9 489.7,197.2 490,197.5 490.1,197.1 490.3,265.1 490.6,265.4 490.7,280.3 490.8,275.7 490.8,197.6 491.1,266.8 491.3,260.6 491.3,276.3 491.7,259.6 491.8,260.9 492,197.7 492,275.3 492,196.1 492.1,260.5 493,195.9 493,197.4 493.1,262.1 493.2,266.1 493.5,270.6 493.6,277.7 493.7,259.3 493.9,198.5 494.2,264.4 494.2,196.6 494.3,264.3 494.5,268.9 494.7,261.7 495.1,195.5 495.2,199.2 495.7,262.1 495.8,263 496.1,272.6 496.2,199.7 496.6,198.5 496.7,262.9 496.9,197.2 496.9,274 497.3,199.7 497.3,266.2 497.4,272.2 497.6,265.6 497.6,286 497.8,198.5 497.9,197.8 498.1,264.5 498.1,267.3 498.5,264.3 498.5,267.4 498.6,199.8 498.7,198.9 499,262.9 499.1,274.9 499.1,268.2 499.2,277.2 499.3,200.7 499.3,291.3 499.5,199.3 499.6,268.1 499.8,269.2 499.9,199.4 500,200.4 500.1,262.7 500.3,268.5 500.3,269.3 500.4,266.7 500.4,200.3 500.4,261.9 500.7,201.3 500.8,202 500.8,295.1 500.9,268 501.6,271.4 501.7,265 501.9,268.8 501.9,267.3 502.1,270.6 502.6,202.2 502.7,268.1 502.8,264.9 503,262.9 503,284.8 503,201.6 503.3,290.3 503.5,268.8 503.7,266.9 504.9,268.9 505.6,202.2 505.7,270.1 505.8,271.3 505.9,271.2 506.2,275.2 506.3,201.5 506.5,270.4 506.6,279.1 506.9,269.7 507.1,199.6 507.5,201.1 507.8,310.1 507.8,279.4 508.2,203.4 508.3,277.8 508.8,270.8 508.8,203.6 509.1,199.5 509.2,275.5 509.3,203.4 509.4,274 509.5,293.7 509.9,201.4 510.5,204.1 510.5,270.7 510.9,271.2 510.9,278.5 511,204.1 511,273.5 511.4,281.7 511.4,277.9 511.6,270.2 511.6,282.2 511.6,281.7 511.7,274.1 512.1,279.2 512.1,203.4 512.1,203.1 512.2,203.3 512.3,283.8 512.7,272 513,276.4 513,298.9 513.2,278.1 513.3,272.5 513.6,272.6 514.2,277.4 514.7,281.4 514.8,203.5 514.8,274.4 515,203.7 515.3,276.1 515.9,301 516,277 516.2,276.5 516.2,204.6 516.3,286.6 516.3,281.8 516.6,286 516.7,205.4 516.8,289.7 516.9,274.7 516.9,278.6 517,205.2 517.2,282.1 517.2,282.9 517.5,287.9 517.5,291.2 517.6,204.3 517.9,205.7 518.4,273.9 518.8,275.3 518.9,273.5 519.1,288.5 519.1,205.5 519.2,274.9 519.4,279.1 519.5,205.4 519.7,202.1 519.8,277.9 520,206.1 520.1,293.9 520.4,283.6 520.4,292.2 520.5,280.4 520.6,282.5 520.6,277.5 520.8,279.8 520.8,279.4 520.9,290.8 521,279 521.4,274.5 521.5,276.9 521.9,204.8 521.9,296.7 521.9,286.4 521.9,206.7 522,280.6 522.3,273.9 522.3,282 523,204.7 523.1,203.1 523.2,272.8 523.2,281.6 523.2,285.6 523.6,296.9 523.8,207.2 523.9,276.5 524,203.9 524.3,276.8 524.5,277.5 524.6,281 524.7,206.6 524.9,289.6 524.9,206.4 524.9,282.2 524.9,290.2 525.1,273.8 525.5,291.7 525.6,279.9 525.9,281.7 526,286.7 526.3,206.6 526.3,283.7 526.6,207.6 526.7,283.6 526.9,290.3 527,281.1 527,288 527.1,207.1 527.2,318.6 527.3,288.1 527.4,206.9 527.7,306.3 527.8,288.5 527.9,280 528,281.4 528.1,289.6 528.2,207.3 528.5,291.9 529,207.6 529.2,288.5 529.3,285.7 529.5,206.4 529.6,206.3 529.9,206.5 530.1,207.4 530.2,282.7 530.2,284 530.4,204.8 530.5,278.7 531,280.2 531.1,288.2 531.4,283.9 531.4,283 531.7,282.1 532,305.9 532,284.3 532,207.3 532.4,298 533,208 533,315.7 533.2,208.5 533.5,309.3 533.8,307.7 533.9,297.2 533.9,208.4 534.6,207.7 534.7,207.4 534.7,283.6 535.2,289.4 535.4,282.5 535.8,209.5 535.9,283.7 535.9,288.9 536.1,209.9 536.2,288.6 536.2,291 536.3,282.7 536.3,290.3 536.3,298.4 536.4,282.5 536.5,297.4 536.7,210.7 536.7,293.6 537,210 537.1,289.1 537.2,209.7 537.6,288.5 537.6,210.9 537.7,284.3 537.7,285.5 538,286.9 538.1,287.3 538.3,302.2 538.6,210.4 539,308.8 539.7,290.6 540.1,290.2 540.1,289.8 540.1,291.9 540.8,297.9 541.4,210.9 541.5,210 541.7,293.6 541.8,211.2 542,305.8 542.1,292.8 542.5,293.7 542.6,297.3 543,211.3 543.1,210.3 543.2,210.6 543.3,313 543.3,211.3 543.6,288.8 543.7,287.8 544,301.2 544.2,288.9 544.8,209.6 544.9,292.1 545,301.1 545,299.1 545.2,288.9 545.9,292 546.2,290 546.3,289.5 546.4,311.6 546.4,211.5 546.5,212 546.5,212.4 546.6,296.8 546.6,292.4 546.7,210.3 547,290 547,301 547.1,213.3 547.3,208.6 547.4,213.2 547.5,213.5 547.7,213.4 548.2,297.6 548.4,214.2 548.4,214.1 548.5,293.7 548.6,291.2 548.8,291.8 548.9,304 549.2,291.4 549.2,211.2 549.3,296.4 549.4,298.9 549.5,309.3 549.6,215.1 549.8,304.1 550,214.7 550.2,215.7 550.3,296.8 550.5,295.1 550.5,295.9 550.5,306.1 550.7,293.8 550.7,303.9 550.8,215.6 550.9,299.2 551,215.3 551.8,216.6 551.9,307.4 551.9,310.5 552,313.4 552.1,293.9 552.1,216.1 552.2,313.9 552.2,322 552.4,215.3 552.6,215.7 552.7,304 553,217.1 553.1,215.6 553.2,306.3 553.3,297.2 553.3,304.7 553.6,216.8 553.8,317.4 553.9,298.2 553.9,299 554,301.1 554.4,215.3 554.6,296.9 554.7,300.1 554.8,321.6 554.8,217.5 554.9,299.9 555.2,315.7 555.2,307 555.2,217.3 555.3,217.4 555.4,216.4 555.8,301.2 555.9,217.7 556,303.9 556.1,217.4 556.1,306.3 556.2,308 556.4,300.5 556.6,217.3 556.8,303.1 557.1,302.8 557.2,323.1 557.4,303.9 557.9,217.5 558.1,301.1 558.4,318.8 558.5,217.4 558.6,315.6 558.8,316.4 558.9,328.8 558.9,217.6 559.3,300.9 559.4,300.4 559.5,217.6 559.5,308.4 559.6,216.6 559.6,213.5 559.9,310 560.1,216 560.7,218.2 561,216.5 561.3,299.8 561.6,217.9 561.6,315.1 562.1,217.4 562.2,301.9 562.6,300.2 563,298.3 563.1,339.4 563.5,308.4 563.7,317.6 563.8,312.7 563.9,303.8 563.9,300.8 564,213.2 564,308.1 564.4,219 564.5,217.3 564.6,300.6 564.7,315.6 565.2,218.6 565.3,309.9 565.6,218.9 565.8,300.3 566.1,310.4 566.4,218.6 566.7,298.8 566.7,301.5 566.8,310.6 567.2,219.2 567.3,308.6 567.6,299.6 568.3,219.7 568.4,305.5 568.5,216.9 568.6,300.5 568.9,302.5 569.3,317.7 569.3,316.2 569.4,218.9 569.4,310.3 569.5,219.6 569.6,215.9 569.6,298.2 569.9,301.8 570.1,312.3 570.3,308.9 571,314.5 571.1,338.6 571.1,302.8 571.2,307.6 571.6,217.3 571.7,299 571.8,298.5 571.9,303.7 572,319.1 572.1,314.9 572.1,302.7 572.4,218.4 572.4,218.7 572.9,299.3 572.9,308.1 572.9,338.1 573.1,302.9 573.2,325.7 573.4,308 573.4,218.3 573.9,309.3 574,217.2 574.1,309.1 574.5,311 574.6,312.4 574.6,299.8 574.6,217.6 574.7,305 574.7,328.8 574.9,310.1 575.1,216.7 575.2,301.6 575.2,214.4 575.4,215.7 575.4,216.7 575.5,298.9 575.6,217 575.7,301.3 575.7,312.8 575.7,214.9 576,214.9 576.1,308.1 576.1,213.6 576.1,215.1 576.2,309.6 576.5,214.4 576.6,322 576.8,305.3 576.8,301.1 576.9,211.2 577.4,299 577.5,212.9 577.7,298.7 577.7,213.2 577.8,211.7 577.9,213.1 578,308.2 578.2,209 578.4,309 578.4,211.6 578.7,213.1 578.8,300.1 579.7,212.7 579.8,307.2 579.8,298.7 579.9,208.9 580.4,301 580.4,310.1 580.6,302.7 580.7,304.9 581,298.4 581.1,312.7 581.2,299.8 581.6,310.4 581.7,211.5 582.1,298.2 582.4,211.3 582.5,211.9 582.7,317 582.9,210.8 582.9,305.5 583.1,208.7 583.2,329.6 583.5,209.2 583.7,299 583.7,297.2 583.8,208.6 583.9,304.9 584.2,306.4 584.4,320.6 584.7,309.7 584.8,298.9 584.9,305.6 585,317.4 585.1,300.4 585.2,304.6 585.4,296.5 585.5,301.7 585.6,207.3 585.6,210.8 586.1,299.7 586.3,309.9 586.7,307.3 587.5,302.4 587.7,301.3 587.7,209.5 588.1,210.1 588.4,300.1 588.8,209.2 589,210.4 589,209.4 589.6,299.6 589.8,300.2 589.9,302.7 590,305.1 590.2,207.3 590.3,332.1 590.3,305.6 590.4,210 590.4,209.5 590.4,310.2 591.3,209.4 591.3,307.7 592,324.7 592,209.4 592.1,302.6 592.2,303.2 592.2,304.4 592.6,310.7 592.8,312.3 592.8,304.2 593.3,305.4 593.7,209 594.3,309.7 594.3,309.1 594.3,208.6 594.4,304.7 594.4,304.3 594.4,310.8 594.6,333.9 594.6,208.6 594.9,310.9 595.2,208.9 595.3,208.7 595.6,208.9 595.6,312 595.9,207.6 596.3,207.5 596.5,313.7 596.6,305.2 596.8,309.1 596.8,306.1 597,208 597.1,208.2 597.3,301.7 597.4,330.3 597.4,314.3 597.5,300.3 597.6,302.6 598,206.4 598.2,316.1 598.2,303.9 598.3,307.6 598.4,305.9 598.6,317.2 598.7,207.7 598.8,301.4 598.8,304.3 598.9,298.9 599,297.8 599.2,305.5 599.4,312.2 599.5,311.4 599.8,307.1 600,316.2 600.3,300 600.4,208.4 600.5,298.3 600.5,309.3 600.7,300.1 600.7,206.8 600.7,316.7 601.1,311.1 601.2,208.2 601.6,207.4 601.9,311.9 602,312.1 602,205.4 602,314.4 602.4,206.1 602.5,308.5 602.5,307.7 602.6,302.7 603,298.3 603,321.4 603,205.1 603.1,297.3 603.3,297.8 603.3,207.6 603.6,296.7 604.2,205.8 604.2,296.7 604.3,303.9 604.4,310 604.7,207.7 604.9,207.1 605.2,301.9 605.3,297.6 605.5,303 605.6,303.3 605.8,302.2 606.2,300.4 606.2,300.8 606.3,307.4 606.5,207.1 606.6,207.1 606.9,301.3 606.9,321.6 607,312.2 607.1,301.4 607.1,206.5 607.2,304.3 607.2,206.4 607.5,295.6 607.6,205.1 607.7,300.5 608,317 608,310.9 608.2,308.2 608.2,300.8 608.3,295.5 608.3,328.1 608.3,205.8 608.5,297 608.5,205.9 608.6,204.5 608.8,320.1 608.8,203.8 608.8,331.6 608.8,307.4 608.8,205.7 608.9,301 609.1,297.1 609.3,316.9 609.6,319.9 609.8,309 609.8,205.2 610,300.3 610.1,320.7 611.1,202.9 611.2,318.4 611.3,301.7 611.4,204.2 611.5,299.8 611.6,302.3 611.8,205.1 612,303.4 612,204.6 612,311.8 612,203.2 612,307.5 612.1,304.8 612.2,326.9 612.3,330.4 612.5,307.7 612.7,301.1 613,301 613.7,302.6 613.8,303.6 614.1,318.3 614.1,204.7 614.3,306.5 614.5,303 614.8,306.6 614.8,203.2 614.9,311.5 615,300.1 615.1,202.6 615.4,204 615.7,306.8 615.8,310 615.8,203 616,303.1 616,203.2 616.6,203.2 616.7,202.2 616.8,311.9 617.1,304.5 617.1,337.4 617.2,316.3 617.8,202 617.9,308 618.2,300.5 618.4,199.2 618.5,301 619,198.5 619.1,201.5 619.1,300.7 619.1,306.6 619.3,301.3 619.4,200.8 619.6,306 619.6,201.2 619.6,201.5 619.7,304.1 620.1,200 620.2,310.1 620.4,322.6 620.5,303 620.9,301.1 621,297.8 621.2,200.6 621.9,300.3 622.1,299.2 622.1,307.1 622.1,313.4 622.1,318.2 622.2,300.3 622.4,305 622.8,303.3 623.4,300.2 623.7,201.1 623.8,200.6 623.9,303.5 624,200.6 624,304 624.1,300.2 624.2,302.8 624.2,306.7 624.2,304.4 624.3,200.3 624.3,196.2 624.3,305.7 624.9,304.5 625.1,302.5 625.3,308.7 625.3,200.1 625.5,308.1 625.6,297.5 625.7,198.5 625.8,320.8 625.8,297.6 626,199.6 626,297.4 626.5,197.6 626.5,301.9 626.6,197.5 626.8,315.3 627.1,198.8 627.3,301 627.4,297.6 627.7,310.3 628.3,298.8 628.5,297.6 628.9,296.2 629,310.7 629.7,197 629.9,198.6 630,310.9 630,306.5 630.2,300.3 630.2,197.8 630.3,303.8 630.7,300.5 630.8,197.7 630.8,299.7 630.8,308.1 630.8,306.1 631.1,298.9 631.1,304.5 631.1,198.6 631.2,309 631.4,303.2 631.5,198.3 631.7,198.4 631.9,308 632,295.9 632.3,198 632.3,196.7 632.3,197.5 632.3,197.7 632.6,197.5 632.8,302.3 632.9,196.8 632.9,297.9 633.4,194.3 633.6,294.5 633.6,306.9 633.6,194 633.7,194.8 633.8,294.2 633.8,293.7 634.2,297.9 634.2,195.2 634.4,196 634.5,195.6 634.6,300.4 634.7,297.7 634.8,298 634.9,193.8 634.9,194.9 635.1,297.6 635.1,292.5 635.1,310.6 635.2,291.9 635.3,298.7 635.3,194.6 635.3,298.2 635.7,293.8 635.8,191.3 635.8,194 635.9,318.6 636.1,315.1 636.2,300.4 636.2,299.2 636.3,192.3 636.5,192.5 636.8,293.2 636.9,191.6 637.1,193.2 637.1,298.8 637.4,311.3 637.4,289.8 637.8,291.6 637.8,316.6 637.8,290.8 638.7,192.1 638.7,191.4 638.7,191 638.8,191 639,294 639,292.6 639.1,190.2 639.3,294.9 639.6,190.8 639.6,188.2 639.8,187.6 639.9,185.3 639.9,189.2 640,188.8 640,313.6 640.1,297.9 640.1,323.9 640.3,289.4 640.4,188.2 640.4,188.2 640.5,184.7 640.6,185.7 640.8,306.1 640.9,188.6 641,292.3 641,298.9 641.2,302.4 641.2,306.5 641.3,298.8 641.5,304.5 641.5,300.2 641.6,299.1 641.7,301.8 641.7,187 641.8,188.7 641.9,302.2 642.2,294.9 642.4,189.9 642.6,190.2 642.8,306.4 642.9,293.1 642.9,296.3 642.9,295.2 643,292.4 643.1,291.2 643.1,316.5 643.3,190.8 643.5,189.4 643.5,190.6 643.6,295.1 643.8,301.5 643.9,186.8 644,190.9 644.1,301.2 644.1,305.8 644.1,300 644.2,297.5 644.2,304 644.4,325.1 644.5,192 644.6,298.7 644.7,297.1 644.7,189.6 644.8,190.4 644.8,192.4 645.5,302.9 645.7,299.5 645.8,306.1 645.8,305 646.4,302.4 646.7,307.1 647,192 647.1,299.1 647.3,295.9 647.5,300.9 647.5,299.2 648,295.9 648.1,302.4 648.1,296 648.2,192.6 648.4,318.7 648.5,311.9 648.5,305.7 648.8,321.7 648.9,302.3 648.9,296.7 649.1,189.8 649.2,192.7 649.3,300.8 649.4,295.7 649.5,305.5 649.6,191.8 649.6,301.6 649.9,314 650,295.5 650.2,296.8 650.3,298.7 650.3,192.1 651,333.2 651.1,295.7 651.2,191.3 651.2,191.3 651.3,307.8 651.7,300.4 651.8,293.8 651.8,293.7 651.9,298.8 652.1,191.1 652.1,302.2 652.2,190.3 652.2,190.9 652.3,314.5 652.4,306.8 652.4,298.8 652.5,189.6 652.6,297.9 652.7,293.8 652.8,294.1 652.8,304 652.9,292.8 652.9,295.7 652.9,293.3 653.1,291.1 653.2,190.1 653.3,277.6 653.3,333.1 653.4,312.7 653.4,288 653.5,283.9 653.5,279.4 653.6,289.4 653.6,303.8 653.6,291.8 653.6,283.1 653.7,283.2 653.7,276.2 653.8,283.7 653.8,285.2 653.8,189.6 653.9,287.4 653.9,278 654,276.1 654.1,189.3 654.1,280.7 654.1,297 654.3,281.9 654.3,254.4 654.3,255.9 654.3,253.5 654.3,260.7 654.3,252.2 654.3,278.7 654.3,290.6 654.3,257.2 654.3,281.5 654.3,253.6 654.3,273.8 654.3,192.2 654.3,257.8 654.3,194.3 654.3,191.3 654.3,260.9 654.4,260.1 654.4,194 654.4,272.4 654.4,274 654.4,192.8 654.4,269.7 654.4,263.1 654.4,274.7 654.4,252.5 654.4,193.4 654.4,262.7 654.4,285.2 654.4,309.3 654.4,262.1 654.4,264.4 654.4,280.6 654.4,188.9 654.5,270.6 654.5,262 654.5,254.9 654.5,276.4 654.5,256.6 654.5,190.3 654.5,266 654.5,272.9 654.5,192.5 654.5,267.9 654.5,256.8 654.5,283.8 654.5,267.5 654.6,269.9 654.6,263 654.6,269.5 654.6,270.2 654.6,280.6 654.6,266.8 654.6,192.2 654.6,258 654.6,262.5 654.6,192.7 654.6,252.9 654.6,257.6 654.6,286 654.6,260.3 654.6,251.8 654.6,194.2 654.6,263 654.6,264.8 654.6,263.7 654.6,258.7 654.6,255.9 654.6,193.4 654.6,265.2 654.7,274.4 654.7,274 654.7,315.9 654.7,268 654.7,257.7 654.7,191.3 654.7,266.9 654.7,277.5 654.7,257.8 654.7,189.4 654.7,272.4 654.7,255.3 654.7,265.1 654.7,252.6 654.7,276 654.7,192.2 654.8,252 654.8,252.4 654.8,266.9 654.8,192.4 654.8,258.6 654.8,258.9 654.8,266.6 654.8,259.5 654.8,194.7 654.8,270.2 654.8,194.6 654.8,254.4 654.8,255 654.8,260 654.8,195.6 654.8,256.1 654.8,259 654.8,266.9 654.8,256.1 654.8,194.8 654.8,257.1 654.8,285.9 654.8,190.8 654.8,258.5 654.8,262.6 654.8,188.4 654.8,256.2 654.8,263.6 654.8,280.8 654.8,255.1 654.8,289.8 654.8,263.8 654.8,267.6 654.8,261.3 654.8,192.2 654.8,255.6 654.8,272.3 654.8,260.1 654.8,289 654.8,260 654.8,256.8 654.8,292.2 654.8,193.4 654.8,251.9 654.8,253.9 654.8,194.2 654.8,251.8 654.8,257.7 654.8,255.1 654.8,268.4 654.8,288.2 654.8,271.9 267.7,159.5 280.2,194.9 292.3,181.4 308.2,198.3 323.3,194.9 332.4,203.3 348,218.5 257.6,141 247.5,140 370.5,272.2 370.5,275.7 397.9,257.3 397.9,263.8 417.9,268.7 417.9,272.7 462.8,289.7 460.3,304.7 467.8,307.2 477.8,312.2 487.8,309.7 500.3,312.2 505.3,302.2 515.2,327.2 527.7,312.2 542.7,327.2 535.2,314.7"/>
</g>
<g clip-path="url(#cb)">
<path fill="#4182b8" shape-rendering="crispEdges" d="M273 399.5v4h1v-4zM274 400v4h1v-4zM275 398.5v4h1v-4zM276 399v3.5h1v-3.5zM277 399.5v3.5h1v-3.5zM278 399.5v3.5h1v-3.5zM279 399v4.5h1v-4.5zM280 399.5v4.5h1v-4.5zM281 399.5v4h1v-4zM282 400v3h1v-3zM283 401v3h1v-3zM284 400.5v3.5h1v-3.5zM285 399v5h1v-5zM286 398.5v5.5h1v-5.5zM287 398.5v5h1v-5zM288 398.5v5h1v-5zM289 398.5v5h1v-5zM290 399v4.5h1v-4.5zM291 399v4.5h1v-4.5zM292 399.5v5h1v-5zM293 399.5v5.5h1v-5.5zM294 399.5v5h1v-5zM295 399v4.5h1v-4.5zM296 398.5v5.5h1v-5.5zM297 398.5v6.5h1v-6.5zM298 399v6h1v-6zM299 398.5v7h1v-7zM300 399v7.5h1v-7.5zM301 398.5v6.5h1v-6.5zM302 396.2v8.8h1v-8.8zM303 396.2v8.8h1v-8.8zM304 396.2v9.3h1v-9.3zM305 396.2v9.3h1v-9.3zM306 396.2v9.3h1v-9.3zM307 398.5v7.5h1v-7.5zM308 396.2v11.3h1v-11.3zM309 396.2v11.8h1v-11.8zM310 398.5v9.5h1v-9.5zM311 396.2v11.8h1v-11.8zM312 396.2v10.8h1v-10.8zM313 398.5v8h1v-8zM314 396.2v9.8h1v-9.8zM315 396.2v9.3h1v-9.3zM316 396.2v9.3h1v-9.3zM317 396.2v9.8h1v-9.8zM318 396.2v11.3h1v-11.3zM319 396.2v11.3h1v-11.3zM320 396.2v12.3h1v-12.3zM321 396.2v11.8h1v-11.8zM322 398.5v10h1v-10zM323 398.5v10h1v-10zM324 398.5v10h1v-10zM325 396.2v12.3h1v-12.3zM326 396.2v12.3h1v-12.3zM327 396.2v12.3h1v-12.3zM328 396.2v9.3h1v-9.3zM329 396.2v9.8h1v-9.8zM330 396.2v9.3h1v-9.3zM331 396.2v14.3h1v-14.3zM332 396.2v14.3h1v-14.3zM333 396.2v12.8h1v-12.8zM334 396.2v13.8h1v-13.8zM335 396.2v13.3h1v-13.3zM336 396.2v12.3h1v-12.3zM337 396.2v12.3h1v-12.3zM338 396.2v12.3h1v-12.3zM339 396.2v13.3h1v-13.3zM340 398.5v11.5h1v-11.5zM341 398.5v12h1v-12zM342 398.5v12h1v-12zM343 396.2v14.3h1v-14.3zM344 396.2v13.3h1v-13.3zM345 396.2v13.3h1v-13.3zM346 396.2v13.3h1v-13.3zM347 396.2v13.3h1v-13.3zM348 396.2v13.3h1v-13.3zM349 396.2v15.3h1v-15.3zM350 396.2v16.3h1v-16.3zM351 396.2v16.3h1v-16.3zM352 396.2v16.3h1v-16.3zM353 396.2v16.3h1v-16.3zM354 396.2v16.3h1v-16.3zM355 396.2v15.3h1v-15.3zM356 396.2v15.3h1v-15.3zM357 396.2v16.8h1v-16.8zM358 396.2v15.8h1v-15.8zM359 396.2v15.8h1v-15.8zM360 396.2v14.3h1v-14.3zM360 411v4h1v-4zM361 396.2v15.3h1v-15.3zM361 412v4h1v-4zM362 396.2v14.8h1v-14.8zM362 413v3.5h1v-3.5zM363 396.2v14.3h1v-14.3zM363 413v4h1v-4zM364 396.2v14.3h1v-14.3zM365 396.2v14.3h1v-14.3zM366 396.2v13.8h1v-13.8zM367 396.2v17.3h1v-17.3zM368 396.2v18.3h1v-18.3zM369 396.2v18.3h1v-18.3zM370 396.2v18.8h1v-18.8zM371 396.2v18.8h1v-18.8zM372 396.2v19.3h1v-19.3zM373 396.2v20.3h1v-20.3zM374 396.2v19.8h1v-19.8zM375 396.2v19.8h1v-19.8zM376 396.2v19.8h1v-19.8zM377 396.2v22.8h1v-22.8zM378 396.2v23.8h1v-23.8zM379 396.2v23.8h1v-23.8zM380 396.2v25.3h1v-25.3zM381 396.2v24.3h1v-24.3zM382 396.2v21.3h1v-21.3zM383 396.2v20.3h1v-20.3zM384 396.2v19.8h1v-19.8zM385 396.2v19.8h1v-19.8zM386 396.2v19.3h1v-19.3zM387 396.2v19.3h1v-19.3zM388 396.2v19.8h1v-19.8zM389 396.2v20.3h1v-20.3zM390 396.2v20.3h1v-20.3zM391 396.2v20.3h1v-20.3zM392 396.2v20.3h1v-20.3zM393 396.2v24.3h1v-24.3zM394 396.2v27.3h1v-27.3zM395 396.2v28.8h1v-28.8zM396 396.2v29.3h1v-29.3zM397 396.2v26.3h1v-26.3zM398 396.2v27.3h1v-27.3zM399 396.2v27.3h1v-27.3zM400 396.2v26.3h1v-26.3zM401 396.2v26.3h1v-26.3zM402 396.2v27.8h1v-27.8zM403 396.2v28.8h1v-28.8zM404 396.2v30.3h1v-30.3zM405 396.2v30.8h1v-30.8zM406 396.2v30.8h1v-30.8zM407 396.2v31.3h1v-31.3zM408 396.2v32.3h1v-32.3zM409 396.2v32.8h1v-32.8zM410 396.2v34.8h1v-34.8zM411 396.2v34.8h1v-34.8zM412 396.2v34.8h1v-34.8zM413 396.2v31.8h1v-31.8zM413 428.5v3.5h1v-3.5zM414 396.2v30.8h1v-30.8zM415 396.2v33.3h1v-33.3zM416 396.2v32.8h1v-32.8zM417 396.2v31.8h1v-31.8zM418 396.2v31.8h1v-31.8zM419 396.2v33.8h1v-33.8zM420 396.2v34.8h1v-34.8zM420 431.5v3.5h1v-3.5zM421 396.2v38.8h1v-38.8zM422 396.2v39.3h1v-39.3zM423 396.2v39.8h1v-39.8zM424 396.2v38.3h1v-38.3zM425 396.2v37.8h1v-37.8zM426 396.2v35.8h1v-35.8zM427 396.2v34.8h1v-34.8zM428 396.2v34.3h1v-34.3zM429 396.2v33.3h1v-33.3zM430 396.2v33.8h1v-33.8zM431 396.2v33.8h1v-33.8zM432 396.2v33.8h1v-33.8zM433 396.2v33.8h1v-33.8zM434 396.2v38.8h1v-38.8zM435 396.2v40.3h1v-40.3zM436 396.2v39.8h1v-39.8zM437 396.2v39.8h1v-39.8zM438 396.2v39.3h1v-39.3zM439 396.2v39.8h1v-39.8zM440 396.2v38.3h1v-38.3zM441 396.2v38.3h1v-38.3zM442 396.2v37.8h1v-37.8zM443 396.2v35.8h1v-35.8zM444 396.2v36.3h1v-36.3zM445 396.2v37.8h1v-37.8zM446 396.2v38.8h1v-38.8zM447 396.2v39.8h1v-39.8zM448 396.2v36.3h1v-36.3zM448 433v3.5h1v-3.5zM449 396.2v36.3h1v-36.3zM450 396.2v35.3h1v-35.3zM450 432v3.5h1v-3.5zM451 396.2v35.3h1v-35.3zM452 396.2v37.3h1v-37.3zM453 396.2v37.8h1v-37.8zM454 396.2v36.8h1v-36.8zM455 396.2v35.8h1v-35.8zM456 396.2v36.3h1v-36.3zM457 396.2v36.3h1v-36.3zM458 396.2v36.8h1v-36.8zM459 396.2v37.3h1v-37.3zM460 396.2v36.8h1v-36.8zM461 396.2v32.3h1v-32.3zM462 396.2v32.3h1v-32.3zM463 396.2v32.3h1v-32.3zM464 396.2v32.3h1v-32.3zM465 396.2v33.8h1v-33.8zM466 396.2v35.8h1v-35.8zM467 396.2v36.8h1v-36.8zM468 396.2v37.3h1v-37.3zM469 396.2v36.8h1v-36.8zM470 396.2v36.3h1v-36.3zM471 396.2v35.8h1v-35.8zM472 396.2v35.8h1v-35.8zM473 396.2v35.8h1v-35.8zM474 396.2v35.3h1v-35.3zM475 396.2v35.8h1v-35.8zM476 396.2v34.8h1v-34.8zM477 396.2v34.8h1v-34.8zM477 432v4.5h1v-4.5zM478 396.2v38.8h1v-38.8zM479 396.2v38.8h1v-38.8zM480 396.2v38.3h1v-38.3zM481 396.2v37.8h1v-37.8zM482 396.2v36.3h1v-36.3zM483 396.2v35.8h1v-35.8zM484 396.2v36.8h1v-36.8zM485 396.2v37.3h1v-37.3zM486 396.2v36.3h1v-36.3zM487 396.2v36.3h1v-36.3zM488 396.2v35.8h1v-35.8zM489 396.2v36.3h1v-36.3zM490 396.2v37.3h1v-37.3zM491 396.2v36.8h1v-36.8zM492 396.2v39.8h1v-39.8zM493 396.2v42.3h1v-42.3zM494 396.2v42.3h1v-42.3zM495 396.2v41.8h1v-41.8zM496 396.2v42.3h1v-42.3zM497 396.2v41.8h1v-41.8zM498 396.2v41.3h1v-41.3zM499 396.2v38.3h1v-38.3zM500 396.2v38.3h1v-38.3zM501 396.2v38.8h1v-38.8zM502 396.2v39.3h1v-39.3zM503 396.2v39.3h1v-39.3zM504 396.2v39.8h1v-39.8zM505 396.2v39.8h1v-39.8zM506 396.2v34.3h1v-34.3zM506 431v4.5h1v-4.5zM507 396.2v39.8h1v-39.8zM508 396.2v39.8h1v-39.8zM509 396.2v36.8h1v-36.8zM510 396.2v36.8h1v-36.8zM511 396.2v36.3h1v-36.3zM512 396.2v36.8h1v-36.8zM513 396.2v37.3h1v-37.3zM514 396.2v37.3h1v-37.3zM515 396.2v37.8h1v-37.8zM516 396.2v38.3h1v-38.3zM517 396.2v38.8h1v-38.8zM518 396.2v39.3h1v-39.3zM519 396.2v39.8h1v-39.8zM520 396.2v39.3h1v-39.3zM521 396.2v37.8h1v-37.8zM522 396.2v38.8h1v-38.8zM523 396.2v38.3h1v-38.3zM524 396.2v37.8h1v-37.8zM525 396.2v39.3h1v-39.3zM526 396.2v37.8h1v-37.8zM526 436.5v3h1v-3zM527 396.2v39.8h1v-39.8zM528 396.2v43.3h1v-43.3zM529 396.2v41.3h1v-41.3zM530 396.2v41.3h1v-41.3zM531 396.2v40.8h1v-40.8zM532 396.2v41.3h1v-41.3zM533 396.2v38.8h1v-38.8zM534 396.2v43.8h1v-43.8zM535 396.2v44.3h1v-44.3zM536 396.2v43.8h1v-43.8zM537 396.2v41.8h1v-41.8zM538 396.2v42.3h1v-42.3zM539 396.2v41.8h1v-41.8zM540 396.2v41.8h1v-41.8zM541 396.2v40.3h1v-40.3zM542 396.2v41.3h1v-41.3zM543 396.2v40.3h1v-40.3zM544 396.2v39.8h1v-39.8zM545 396.2v44.3h1v-44.3zM546 396.2v44.3h1v-44.3zM547 396.2v44.3h1v-44.3zM548 396.2v43.8h1v-43.8zM549 396.2v42.8h1v-42.8zM550 396.2v41.8h1v-41.8zM551 396.2v40.8h1v-40.8zM552 396.2v40.3h1v-40.3zM553 396.2v39.8h1v-39.8zM554 396.2v40.3h1v-40.3zM555 396.2v39.8h1v-39.8zM556 396.2v39.8h1v-39.8zM557 396.2v40.3h1v-40.3zM558 396.2v40.3h1v-40.3zM559 396.2v39.8h1v-39.8zM560 396.2v40.8h1v-40.8zM561 396.2v40.3h1v-40.3zM562 396.2v39.8h1v-39.8zM563 396.2v38.3h1v-38.3zM564 396.2v38.8h1v-38.8zM565 396.2v41.3h1v-41.3zM566 396.2v41.8h1v-41.8zM567 396.2v41.8h1v-41.8zM568 396.2v42.8h1v-42.8zM569 396.2v42.8h1v-42.8zM570 396.2v42.3h1v-42.3zM571 396.2v43.3h1v-43.3zM572 396.2v45.8h1v-45.8zM573 396.2v45.8h1v-45.8zM574 396.2v47.3h1v-47.3zM575 396.2v46.3h1v-46.3zM576 396.2v48.3h1v-48.3zM577 396.2v50.3h1v-50.3zM578 396.2v50.3h1v-50.3zM579 396.2v50.3h1v-50.3zM580 396.2v49.8h1v-49.8zM581 396.2v48.8h1v-48.8zM582 396.2v47.8h1v-47.8zM583 396.2v49.8h1v-49.8zM584 396.2v50.3h1v-50.3zM584 447.5v4.5h1v-4.5zM585 396.2v51.8h1v-51.8zM586 396.2v51.8h1v-51.8zM587 396.2v51.3h1v-51.3zM588 396.2v52.8h1v-52.8zM589 396.2v52.8h1v-52.8zM590 396.2v52.8h1v-52.8zM591 396.2v52.3h1v-52.3zM592 396.2v52.8h1v-52.8zM593 396.2v53.8h1v-53.8zM594 396.2v55.8h1v-55.8zM595 396.2v56.3h1v-56.3zM595 457.5v3h1v-3zM596 396.2v60.3h1v-60.3zM597 396.2v61.3h1v-61.3zM598 396.2v60.8h1v-60.8zM599 396.2v60.3h1v-60.3zM600 396.2v60.3h1v-60.3zM601 396.2v60.8h1v-60.8zM602 396.2v61.3h1v-61.3zM603 396.2v60.8h1v-60.8zM604 396.2v60.8h1v-60.8zM605 396.2v61.3h1v-61.3zM606 396.2v63.8h1v-63.8zM607 396.2v64.8h1v-64.8zM608 396.2v65.3h1v-65.3zM609 396.2v65.8h1v-65.8zM610 396.2v65.8h1v-65.8zM611 396.2v64.8h1v-64.8zM612 396.2v63.3h1v-63.3zM613 396.2v62.3h1v-62.3zM614 396.2v63.8h1v-63.8zM615 396.2v64.3h1v-64.3zM616 396.2v64.3h1v-64.3zM617 396.2v63.8h1v-63.8zM618 396.2v63.8h1v-63.8zM618 466.5v3h1v-3zM619 396.2v63.8h1v-63.8zM619 467v3h1v-3zM620 396.2v65.3h1v-65.3zM621 396.2v65.8h1v-65.8zM622 396.2v66.8h1v-66.8zM623 396.2v67.8h1v-67.8zM624 396.2v68.8h1v-68.8zM625 396.2v69.8h1v-69.8zM626 396.2v69.8h1v-69.8zM627 396.2v69.3h1v-69.3zM628 396.2v68.3h1v-68.3zM629 396.2v66.3h1v-66.3zM630 396.2v68.3h1v-68.3zM631 396.2v69.3h1v-69.3zM632 396.2v69.8h1v-69.8zM633 396.2v71.8h1v-71.8zM634 396.2v71.8h1v-71.8zM635 396.2v73.8h1v-73.8zM636 396.2v74.8h1v-74.8zM637 396.2v74.8h1v-74.8zM638 396.2v73.8h1v-73.8zM639 396.2v73.3h1v-73.3zM640 396.2v72.8h1v-72.8zM641 396.2v72.8h1v-72.8zM642 396.2v72.3h1v-72.3zM643 396.2v73.8h1v-73.8zM644 396.2v73.8h1v-73.8zM645 396.2v75.8h1v-75.8zM646 396.2v75.8h1v-75.8zM647 396.2v73.8h1v-73.8zM648 396.2v71.3h1v-71.3zM649 396.2v76.8h1v-76.8zM650 396.2v74.8h1v-74.8zM651 396.2v68.8h1v-68.8zM652 396.2v68.8h1v-68.8zM652 473v4.5h1v-4.5zM653 396.2v69.3h1v-69.3zM653 472.5v5.5h1v-5.5zM654 396.2v70.3h1v-70.3zM654 474v3.5h1v-3.5zM655 396.2v69.3h1v-69.3zM656 396.2v69.3h1v-69.3zM657 396.2v64.3h1v-64.3zM658 396.2v54.8h1v-54.8z"/>
<path fill="#4182b8" d="M659 396.2H658Q659.2 396.2 659.2 397.8V449.4Q659.2 451 658 451H659z"/>
<polyline fill="none" stroke="none" marker-start="url(#m)" marker-mid="url(#m)" marker-end="url(#m)" points="117.5,404.9 134.1,403.7 145.9,404.9 155,412.2 162.4,408.4 168.8,406.9 174.2,411.9 179,408.9 183.4,409.5 187.3,411.3 190.8,412.7 194.1,399.6 197.1,410.4 200,399.6 202.6,404.9 205.1,407.5 207.4,406 209.6,403.1 211.7,405.4 213.7,409.1 215.6,400 217.5,399.8 219.2,401.9 220.9,399.3 222.5,399.2 224,401.3 225.5,401.1 226.9,405.3 228.3,402 229.7,401.3 231,401.2 232.2,400.1 233.5,399.1 234.6,399.9 235.8,402.5 236.9,399.9 238,400.6 239.1,399.1 240.1,403.9 241.1,399.7 242.1,400.2 243.1,404.7 244,401.3 244.9,404.1 245.8,402.1 246.7,402.9 247.6,399.4 248.4,401.5 249.2,401.3 250.1,404.6 250.9,400.6 251.6,401.9 252.4,399.3 253.1,400.7 253.9,400.4 254.6,399.7 255.3,403.9 256,400.7 256.7,408.9 257.4,401.9 258.1,402 258.7,402.2 259.4,402.5 260,399.7 260.6,401 261.2,400.1 261.8,400.8 262.4,399.4 263,408.4 263.6,399.9 264.2,402.6 264.7,400.3 265.3,405.2 265.8,402.5 266.4,399.6 266.9,404.7 267.4,407.4 268,406 268.5,401.9 269,399.7 269.5,399.9 270,406.8 270.5,401.8 271,399.8 271.4,405.6 271.9,402.4 272.4,401.9 272.8,400.7 273.3,400.9 273.8,400.1 274.2,399.2 274.6,405.5 275.1,401.3 275.5,401.8 275.9,400.5 276.4,403.6 276.8,399.2 277.2,400.7 277.6,399.2 278,399.6 278.4,409.4 278.8,402.7 279.2,401.1 279.6,401.7 280,405.7 280.4,400.6 280.8,402.2 281.1,403 281.5,400.7 281.9,401.6 282.3,403.9 282.6,406.8 283,399.7 283.3,407.7 283.7,399.1 284,403.8 284.4,404.6 284.7,399.6 285.1,401 285.4,404.7 285.8,399.1 286.1,402.5 286.4,404.4 286.8,401.7 287.1,403.5 287.4,400 287.7,399.9 288,400.7 288.4,399.8 288.7,400.7 289,408.7 289.3,402.1 289.6,400.6 289.9,400.3 290.2,409 290.5,401.2 290.8,411.7 291.1,401.7 291.4,401.8 291.7,406.7 292,403.8 292.3,402.2 292.5,401.1 292.8,406.3 293.1,401.1 293.4,407.7 293.7,399.3 293.9,401.2 294.2,401.8 294.5,409.2 294.8,400.2 295,404.8 295.3,403.1 295.6,403.6 295.8,402.7 296.1,411 296.3,400.6 296.6,401 296.9,399.9 297.1,399.3 297.4,400 297.6,407.6 297.9,405.6 298.1,399.5 298.4,402.5 298.9,402.4 299.1,403 299.3,400.5 299.6,410.3 300.3,402.8 300.5,399.9 300.8,399.3 301,401.1 301.2,404.4 301.5,405.2 301.7,403.9 301.9,399.5 302.1,407.8 302.4,405 302.6,406.7 303,408 303.2,399.3 303.5,399.2 303.7,399.1 304.7,399.2 305.2,399.8 305.4,403.4 305.6,399.1 305.8,400.6 306,409.3 306.4,405.4 306.6,403.2 306.8,402.8 307,399.9 307.4,399.2 307.6,405.3 307.8,411 308,406.4 308.2,399.3 308.6,400.6 308.8,399.5 309.1,405.3 309.3,400.6 309.5,406.7 309.7,405.3 309.9,399.6 310.1,404.8 310.3,407.4 310.5,400 311.2,399.5 311.7,405.9 311.9,405.5 312.2,404.2 312.4,407 312.6,407.9 312.8,399.8 312.9,399.2 313.1,403.4 313.3,400.1 313.6,410.4 314,400.3 314.3,403.5 314.5,399.5 314.8,399.7 315,403.6 315.1,406.3 315.8,400.1 316.4,399.4 316.6,404.9 317,399.4 317.2,405.1 317.4,399.7 317.5,399.7 317.7,399.7 317.8,399.4 318,408.8 318.4,406.5 319,408 319.3,404.3 319.5,399.5 319.8,405.4 319.9,406.4 320.3,399.3 320.6,405.1 320.8,400 320.9,400.4 321.3,408.7 321.5,399.6 321.6,400 321.8,406 322.2,422.7 322.3,410.9 322.5,407 322.6,405.6 323,400 323.9,399.2 324.1,407.2 324.8,406.9 325,410 325.2,399.7 325.4,405.4 325.5,420.3 325.6,399.8 325.7,404.6 325.9,406.8 326,410.2 326.1,399.6 326.2,399.5 326.4,418.2 326.5,399.6 326.6,399.9 327,405.3 327.2,410 327.5,405.7 327.6,399.4 327.8,399.2 328.2,404.8 328.4,399.3 328.6,422.7 328.7,409 328.8,410.2 329.3,399.7 329.4,399.2 329.6,399.7 329.8,408.1 330.2,404.2 330.7,403.7 331.1,406.3 331.2,408.6 331.3,400 331.4,399.7 331.5,399.6 331.6,416.8 331.7,412.1 331.9,415.1 332.1,400.2 332.4,410.5 332.5,399.3 332.7,403.4 332.8,399.4 333.1,409 333.2,405.8 333.3,407.4 333.6,408 334.1,399.9 334.3,399.9 334.4,410.9 334.7,412.1 334.8,399.9 335,399.5 335.1,415 335.3,406.9 335.5,406.8 335.8,413.4 336.2,407.7 336.7,406.2 336.8,399.4 336.9,399.1 337,414.4 337.6,399.5 337.9,412.1 338,399.3 338.4,399.4 338.6,400.1 338.7,409.4 338.8,400.1 339,405.9 339.3,407.2 339.6,407.5 340.6,407.8 340.8,408.4 341.1,399.2 341.3,408.9 341.9,400.1 342.3,433.9 342.7,414 342.8,410.2 342.9,400.6 343,410 343.3,399.4 343.3,409.3 343.6,400.2 343.7,408.1 343.8,408.1 344.3,400.2 344.6,399.3 344.8,407.8 345,399.4 345.7,400.2 345.8,416.1 346.1,399.4 346.3,406.8 346.4,400.2 346.5,399.8 346.8,412.5 348,416.4 348.1,399.2 348.4,399.1 348.7,407.4 349,408.1 349.2,412.8 349.2,411.1 349.4,399.3 349.7,415.6 349.8,410.8 349.9,399.7 350,399.2 350.1,408.6 350.1,412.4 350.2,423.9 350.6,415.6 350.8,399.1 351.1,409.4 351.3,399.4 351.6,413.4 351.8,411.5 352,399 352.6,414.4 352.9,399.7 353,399.2 353.2,409.4 353.2,399.5 353.7,410 354.2,399.2 354.3,417.4 354.7,410 354.9,399.4 355.2,399.4 355.4,413.4 355.7,399.4 355.8,411.2 356,399.4 356.1,410.3 356.2,410.4 356.2,399.1 356.5,399.4 356.7,418.6 356.9,399.3 357,399.5 357.2,416.5 358,408.7 358.5,399.7 358.6,408.8 358.7,413.8 358.7,399.6 358.9,409.9 358.9,412.9 359,399.3 359.2,413.7 359.3,399.4 359.7,422.3 359.8,399.7 359.9,408.6 360,407.8 360,399.1 360.1,410.9 360.5,399.3 360.9,399.2 361.3,411.8 361.3,413.6 361.7,415.1 362,420.2 362.1,412.9 362.2,399.6 362.2,399.6 362.3,415.4 362.4,399.2 362.4,413.8 362.5,399.4 362.8,433.8 362.9,408.9 363.1,408.1 363.1,412.2 363.2,427.6 363.3,416 363.4,416.3 363.5,415.7 363.9,399.4 364.1,408.7 364.6,399.7 364.8,399.3 365.3,399.5 365.3,420 365.5,427.7 365.7,427.2 365.7,417.1 366,399.1 366.4,399.2 366.4,414.9 366.6,399.1 366.7,418.7 366.7,412.8 366.9,399.2 367,399.2 367.2,413.2 367.4,408.7 367.7,417.6 367.8,409.4 367.9,399.1 368,412.6 368.2,409.3 368.2,408.5 368.4,410.7 368.4,422.4 368.5,411.4 368.7,399.1 368.9,411.5 369,413 369.1,416.3 369.3,427.7 369.5,417.7 369.6,417.4 370,399.1 370.2,422 370.5,399.2 370.8,413.8 370.8,419.1 371.2,415.3 371.7,419.6 371.7,423.8 371.8,412.8 371.9,421.1 372.4,415.1 372.4,399.1 372.9,413.9 373.1,413.2 373.4,428.7 373.4,399.2 373.5,419.3 373.5,399.1 374.4,429.7 374.9,415.1 375.1,416.6 375.1,418 375.1,399.2 375.2,432.4 375.6,416.7 375.7,399.1 375.8,419.9 376,413.5 376.5,425.6 377.1,416.4 377.1,399.1 377.8,418.7 378.1,420.6 378.5,421 379,429 379.1,415.2 379.3,416.3 379.6,417.2 379.6,399 379.7,420.7 379.9,415.5 379.9,421.7 380.2,435.2 380.3,418.6 380.4,448.6 380.5,415.4 380.6,399.1 381.2,417.7 381.4,417.5 381.5,423 381.6,399.2 381.8,429.5 382.3,414.6 382.5,420.6 382.5,421.6 382.9,399.4 383.1,399.6 383.4,399.6 383.5,416.2 383.5,413.8 383.5,399.4 384,399.2 384.2,399.5 384.2,414.2 384.4,414.1 384.6,428.2 385,432.4 385,413 385.1,427.4 385.2,416.9 385.3,399.2 385.7,399.7 385.8,419.1 386.4,427.9 386.5,399.7 386.6,420 386.6,399.6 386.7,413 386.9,430.3 387,418.8 387.1,422.8 387.3,417.2 387.4,432.1 387.5,399.3 387.5,419.4 387.7,399.1 387.9,431.9 388.1,422 388.7,435.2 388.9,417.7 389,413.5 389.1,399 389.2,433 389.5,423.7 389.8,399.2 390.1,399.2 390.1,415.1 390.6,422.2 390.6,420.1 390.7,424.4 390.8,399 391,399.1 391,415.9 391.1,414.6 392,399.2 392.5,421.3 392.8,399.2 392.9,428 393,416.8 393,420.1 393.2,399.2 393.4,399.2 393.5,437.2 393.7,415.6 394.4,427.1 394.5,422.9 394.7,420.8 394.8,416.5 394.8,416.1 394.9,421.9 394.9,417.5 395,424.6 395,399.1 395.1,399.2 395.2,417.3 395.3,420.1 395.4,421.8 395.6,419.1 395.7,435.5 395.8,427.7 395.8,399.1 395.9,420.2 396.3,426.1 396.4,422.5 396.6,428.9 396.6,429.7 396.8,399.2 396.8,422.2 397.3,438 397.3,426.9 397.4,422.7 397.7,399.1 398.2,426.2 398.6,420.5 399.1,419.9 399.7,430.4 399.9,432.3 400,399.2 400.1,423.9 400.3,423.5 400.6,421.5 400.9,399.2 401,449.3 401.1,439.2 401.3,399.1 401.3,399.2 402,422.8 402,420.1 402,440.1 402.4,432 403.2,422.5 403.3,438.8 403.5,439 403.6,428 403.7,446.4 403.8,423.9 403.9,424.2 403.9,421.5 404.4,445.5 404.5,422 404.6,437.6 404.8,426.6 404.9,399.1 405,430.7 405.1,424.9 405.2,435.4 405.5,441.7 405.7,399.1 405.9,428.8 406,424.9 406,436.7 406.6,435.6 406.6,426.4 406.7,399.2 407.1,430.2 407.2,435.2 407.5,438.1 407.6,452 407.7,399.2 407.9,427.9 409.5,425.9 409.6,399.2 409.6,429 409.8,441.6 410.1,399 410.3,431 410.4,427.8 410.6,453.2 411.1,427.5 411.2,426.4 411.3,431 411.6,455.7 411.6,426.3 411.7,399.1 411.8,429.5 412.1,399.2 412.2,430.5 412.2,438.3 412.3,430.9 412.9,435.9 413.1,424.8 413.3,433.4 413.3,399.1 413.4,399.2 413.8,425.1 414.1,431.2 414.1,399.1 414.1,428.3 414.3,427.8 414.5,432.8 414.6,468.4 414.7,426.7 414.8,435.7 415.5,450.2 415.8,435.6 416.1,399.1 416.1,399.2 416.2,437.8 416.3,444.2 416.3,452.1 416.5,399.1 416.8,399.2 416.9,429.5 417,428.2 417.1,433.6 417.2,428.2 417.6,443.1 417.6,399.2 417.7,427.4 417.7,446.8 417.8,433.3 418,435.1 418.2,399.1 418.4,399 418.6,440.2 418.7,399.2 419.1,454.9 419.4,425.6 419.4,433.8 419.7,431.6 419.9,399.2 420,430.5 420.1,399 420.2,427.1 420.2,399.2 420.3,432.3 420.5,399.1 420.7,399.1 420.9,435.6 421.2,427.4 421.3,431.4 421.4,428.4 421.8,441.3 421.8,443.8 421.8,432.6 422,399 422.1,430 422.1,433.3 422.1,399.1 422.3,399.1 422.8,399.1 422.8,449 423.1,440.6 423.2,433.3 423.3,433.3 423.4,442.5 423.6,399.2 424,436 424.1,429.9 424.1,450.4 424.4,432.9 424.5,445 424.6,437.6 424.7,437.8 424.8,431.6 424.9,469.8 425,430.9 425.3,435.2 425.4,448 425.5,429 425.8,458.7 425.8,399.1 426.1,461 426.1,399.2 426.2,428.9 426.4,429.6 426.4,439.8 427.1,431.9 427.5,399.2 427.7,442.4 427.8,427.3 427.8,399.2 427.8,399.2 427.9,399.1 428,439.9 428,399.2 428.2,439.3 428.4,427.7 428.6,429.4 428.9,436 429.2,399.2 429.2,399.1 429.4,438.9 429.6,399.2 429.7,399.2 429.9,428.4 430,465.7 430.2,399.2 430.8,399.2 430.8,427.5 430.9,399.2 431,399 431.1,399.1 431.2,432.5 431.4,452.2 432,446.1 432.1,399.1 432.1,439.8 432.1,440.6 432.2,399.1 432.5,433.5 432.9,427.7 433.1,429 433.2,427.8 433.4,431.5 433.4,399.1 433.5,436 433.6,433.9 433.9,399.2 434.1,431.6 434.3,399.2 434.4,430.2 434.5,436 435.1,439.3 435.2,443 435.4,431.7 435.5,437.1 435.5,437.4 435.8,399.1 436.1,432.7 436.1,399.2 436.2,430.2 436.3,435.5 436.6,399.1 436.7,399.1 437.1,399.2 437.1,461.5 437.2,433.9 437.5,399.1 437.5,444.1 437.6,451.8 437.6,432.9 438,432.7 438.1,399.2 438.1,445.3 438.2,433.7 438.5,399.2 438.6,448.2 439.2,399.1 439.3,399.2 439.6,462.5 439.6,434.1 439.6,399.2 439.6,399.1 439.7,433.1 439.8,435.4 439.8,438 440.5,399 440.6,450.1 440.8,430 441.1,443.7 441.4,435 442.1,435.2 442.5,440.1 442.8,431.8 442.9,446.5 442.9,453.9 443.1,431.5 443.2,430.1 443.4,431.4 444,431.8 444.2,442.9 444.8,457.5 445,432.3 445.3,438.7 445.9,435.2 446.5,433.8 446.5,430.9 446.6,436.9 446.9,429.9 447.2,439.5 447.6,442.7 447.8,399.2 447.9,433.1 448,399.2 448.1,435.8 448.2,433.4 448.2,399.1 448.3,399.2 448.4,435.5 448.6,429.5 449,399.1 449.3,446.3 449.5,432.5 449.5,399.1 450,399.1 450.5,399.1 450.6,436.2 450.6,399.2 450.9,399.2 450.9,433.9 451,431.1 451.1,399.2 451.1,434.7 451.5,399.1 452,399.2 452,399.2 452.1,431.6 452.4,430.1 452.4,450.3 452.5,436.7 452.6,399 452.9,457.2 453.3,399.2 453.5,429.6 453.8,431.8 453.8,431.1 453.9,434.3 454.2,430.9 454.4,441.4 454.5,447.2 454.6,432 455.2,467 456.2,430.8 456.4,429.4 456.5,441.9 457.6,438.5 457.9,430.3 458,434.2 458.2,446 458.3,428.1 458.4,430.4 458.6,430.9 458.7,427.6 458.9,447.5 459.2,429.9 459.3,434.1 459.4,445 459.8,431.5 460,426 460.2,427.5 460.2,443.1 460.3,429.2 460.5,440 461,425.9 461.4,430.5 461.5,433.5 461.7,444.4 461.8,442.9 461.9,434.2 462.2,429 462.6,436.9 463.1,445.9 463.4,428.4 463.8,440.6 464.3,427 464.7,435.4 464.9,437.4 465.1,427.4 465.5,436.1 465.7,433.4 466,427.4 466.1,429.2 466.4,426.7 466.5,430.2 466.7,436.3 467,439.7 467.1,450.4 467.2,429.4 467.3,435.5 467.9,430.4 467.9,438.5 468.1,438.5 468.2,430.4 468.3,431.9 468.4,429.9 468.6,447.6 468.7,439.1 469,431.2 469,441 469.3,445 469.6,431.8 469.8,429.6 470.8,433.1 471.4,433.7 472.9,444.8 473.1,445.9 473.3,441.1 473.4,429.7 473.6,432.9 473.6,452 473.8,433.6 473.9,432.9 474,429.4 474.3,429.1 474.9,443.8 475.1,444.3 475.9,434.7 476.5,438.2 477.2,432.7 477.2,431.2 477.3,436.8 477.4,434.5 477.5,438.9 477.8,430.7 478.6,435 478.7,430.1 478.9,431.8 479.2,433.9 479.2,434.7 479.4,454.4 479.6,429 479.7,429.9 480,438.5 480.2,431.3 480.8,453.6 481,433.1 481.2,444.8 481.2,432.4 481.4,431.7 482.2,436.9 482.9,432.1 483.6,432.1 484.3,430 485,434.8 485.2,435.3 485.4,434.7 485.5,430.4 485.9,430.1 486.4,436.3 486.5,431.9 486.6,439.5 487.3,429.4 488.7,432.7 488.8,442.5 488.9,441.6 489.1,458.2 489.4,436.1 489.5,430.9 489.6,429.5 489.7,439.7 490,439 490.1,440.5 490.4,431.3 490.7,433.7 490.8,439.2 491.2,432.7 492,439.7 492,446.4 492.2,431.5 492.7,433 493,448.7 493,442.1 493.1,435.3 493.1,436.5 493.5,435.4 493.9,438.4 494,435.2 494.2,446.6 494.6,436.3 495.1,453 495.2,437.2 495.8,437.1 496.2,436.1 496.6,440.8 496.9,432.4 496.9,446.9 497,435.1 497.3,437 497.8,442.3 497.9,445.3 498.2,432.1 498.6,437.8 498.7,432 498.7,441.3 499.3,435.2 499.5,440.8 499.9,440.6 500,436.8 500.4,437.4 500.7,434.5 500.8,432.1 502.6,433 503,435.2 503.2,433 503.6,429.3 504.2,429.2 504.5,433 504.6,433.1 504.9,430 505.6,435.4 505.8,434.3 506.2,431.1 506.3,434.6 506.3,438.8 506.5,435.3 507.1,447.6 507.1,429.6 507.5,441.2 507.9,430.7 508.1,430.5 508.2,433.5 508.8,433.5 509.1,450.3 509.3,434.5 509.9,442.9 510.5,433.4 511,433.8 512.1,437.2 512.1,438.4 512.1,431 512.2,437.7 513.4,431.1 513.4,431.4 513.5,430.3 514.5,431.5 514.5,431.2 514.8,439.7 514.9,431.9 515,439.5 515.8,432.2 516.2,437.1 516.7,435 517,435.7 517.1,432.8 517.6,439.7 517.9,434.9 519.1,436.7 519.5,437.7 519.7,452.3 519.9,432.8 520,435.5 520.8,432 521.3,432.8 521.4,431.8 521.9,442.4 521.9,435.5 523,444.4 523.1,451.6 523.6,432.4 523.8,435.5 524,449 524.7,438.4 524.7,434.3 524.9,435 524.9,439.2 525.6,432.6 526.3,440.1 526.6,436.3 527.1,434 527.1,439 527.2,435.7 527.4,439.9 528.2,439 529,438.9 529.5,436.2 529.5,444.4 529.6,444.7 529.7,434.7 529.9,444.2 529.9,434.3 530.1,440.8 530.4,452.9 530.6,435.5 530.7,437.9 532,433.1 532,443.2 532.6,437.2 532.6,439.2 533,441.5 533.2,439.7 533.9,434.8 533.9,440.7 534.3,436.2 534.4,435 534.5,432.6 534.5,437.9 534.6,444.5 534.7,445.6 535.7,436.9 535.8,438.4 536.1,437.3 537,438.1 537.2,439.3 538.6,437.9 539.4,434.9 539.9,436.1 540.4,436.1 540.6,435.4 541.1,434.7 541.4,439.5 541.5,443.1 541.8,438.7 543,439.9 543.1,444.2 543.2,443 543.3,440.3 543.6,434.9 543.8,434.2 544.6,435.5 544.8,450.1 545,437.4 546,436 546.2,435.5 546.3,438 546.4,443.8 546.5,441.6 546.5,440.4 546.7,449.6 547.1,437.8 547.3,460.3 547.4,438.4 547.5,437.5 547.7,438.1 548.4,436.1 548.4,436.5 549.2,449.6 550,436.3 550.8,434 551,435.2 552.1,433.8 552.4,437.1 552.6,435.8 553.1,436.8 554.4,439.6 555.2,433.4 555.4,436.5 556.1,433.8 556.6,434.6 557.9,435.3 558.5,436.3 558.9,436.1 559.5,436.3 559.6,440.5 559.6,454.9 560.1,434.4 560.1,443.4 560.5,433.7 560.7,435.6 561,442.5 561.6,437.5 562.1,432 562.1,439.8 563.3,433.5 563.3,432.2 563.9,434.7 564,463.1 564.2,435 564.4,436.2 564.5,442.6 565.2,438.1 565.6,437.4 566.3,435.2 566.4,434.6 566.4,439.1 566.6,433.7 566.8,434.1 567,434.6 567.2,437.7 568.3,436.7 568.5,435.4 568.5,448.5 569.4,440.6 569.5,437.8 569.6,454.5 570.6,438.9 571.1,439.1 571.6,448 572.1,438.9 572.4,443.1 572.4,442 572.5,436.4 573,438 573.4,443 574,441.7 574,447.1 574.4,441 575.2,441.8 576.1,444.5 576.5,440.9 576.9,455.7 577.5,446.5 577.7,445.1 577.8,452.1 577.9,445.7 578.2,467.5 578.4,452.4 578.7,443.6 578.7,445.1 579.1,443.6 579.4,445.3 579.7,446.4 579.9,467.2 581.1,441.6 581.2,443.8 581.6,442.6 581.7,451 582.1,443.9 582.4,451.7 582.5,449 582.9,449.5 582.9,454.3 583.1,466.1 583.5,444.6 583.5,462.9 583.8,449.8 583.8,466.7 583.9,443.2 583.9,449.4 584.1,448.1 584.7,444.4 584.9,446.2 585.6,444.8 585.6,474.3 585.6,453.2 585.8,449.5 586.7,449.6 587.2,445.4 587.7,459.4 588.1,456 588.2,445.8 588.6,445.9 588.8,450.9 588.8,460.5 589,453.8 589,459.1 589.3,446.2 589.7,446.1 589.8,446.2 590.2,471.7 590.3,447.9 590.4,455.4 590.4,457.9 590.7,448.8 590.9,455 591.3,458.1 591.5,450.6 591.6,453.4 592,457.2 592.1,447 592.9,449.8 593.6,447.1 593.6,452.2 593.7,458.2 594.3,460 594.6,459.9 594.9,448.9 594.9,453.5 595.2,457.4 595.3,458.6 595.5,451.9 595.6,448.9 595.6,457.2 595.7,451.8 595.9,464.4 596,449.6 596.3,457.3 596.3,464.4 597,461 597.1,459.5 597.1,451.9 597.1,456.3 597.2,450.6 597.3,454.2 597.3,451.2 597.4,450.8 597.8,454.4 598,469.6 598.2,453.8 598.5,454 598.7,460.9 600.4,454.9 600.7,463.9 601.2,455.4 601.6,459.4 602,471.3 602.1,454.7 602.4,455.7 602.4,456 602.4,466.6 603,472.4 603.1,455.2 603.1,454.7 603.3,456.2 604.2,465.8 604.9,457.1 606.5,455.4 606.6,455 607.1,457.9 607.2,458.2 607.6,465.7 608.1,457.8 608.2,456.7 608.3,460.1 608.4,459.4 608.5,459.6 608.6,468.1 608.8,472.3 608.8,460.3 609.7,458.3 609.8,458.8 609.8,461.5 609.9,458.9 611.1,474.9 611.4,465.3 611.8,459.5 612,462.5 612,471.2 612.5,455.8 613.3,458.4 613.7,456.7 614.1,458.6 614.8,466.1 615.1,469.9 615.4,460.3 615.4,457.2 615.8,465.9 615.8,457.7 615.9,460.2 615.9,458.3 616,464.1 616.6,463.3 616.6,463.7 616.7,469.3 617.3,459.1 617.8,468 618.2,459.1 618.4,487.6 619,491.8 619.1,468.6 619.2,460.7 619.3,465.5 619.4,473 619.6,469.3 619.6,467.3 619.8,468.5 619.9,462.7 620,466.9 620.1,476.6 620.3,462 620.5,459.7 620.7,457.5 621.2,469.7 621.6,462 622.2,461.9 622.2,458.9 623.7,460.6 623.8,463.7 624,463 624.3,464.3 624.3,495.8 625.3,463.1 625.7,473.3 625.8,463.2 625.8,463.5 626,465.1 626.5,478.1 626.6,478.2 627.1,467.9 627.9,463.5 628.4,463.5 629.2,462.8 629.7,474.5 629.7,461.5 629.9,463.1 630.2,467.3 630.8,466.8 631.1,460.6 631.5,461 632.3,469.4 632.3,463.7 632.3,462.8 632.6,462.8 632.9,466.7 633.2,465.1 633.4,482.9 633.6,484.2 633.7,477.7 634.2,473 634.4,466.3 634.5,468.6 634.6,463.9 634.9,479.9 634.9,471.6 634.9,465.5 635.3,470.5 635.7,465.7 635.8,492 635.8,470.8 635.9,469.4 636.3,479 636.5,476.1 636.9,467.6 636.9,479.4 637.1,468 637.8,468.9 638.7,468.4 638.8,466.8 639.1,466.6 639.6,470.5 639.8,472.5 639.9,487.7 640.5,493 640.6,484.4 641.7,481.9 641.8,470.7 642.4,466.8 642.6,466.6 643.3,467.7 643.5,479.1 643.5,471.1 643.7,466.3 643.9,507.1 644,473.4 644.5,469.4 644.5,467 644.7,488.6 644.8,467.7 644.8,482.6 644.8,468.3 646.8,471.3 647,469.7 647,480.4 647.1,464.9 647.2,470.8 647.2,473.6 647.2,469.8 647.9,465.8 648.2,478.5 648.2,467.1 648.3,467.1 648.5,472.1 648.8,467.5 649.1,503 649.2,477.5 649.6,483.5 649.6,463.6 649.7,475.2 649.8,464.5 649.9,471.6 650.3,478 650.9,472.5 651,469.1 651.1,473.9 651.2,464.1 651.2,479.5 651.2,479.3 651.5,468.7 651.7,467.9 652,471.1 652,470.7 652.1,475.5 652.2,468 652.2,481.3 652.2,476.8 652.5,484.9 653.2,475.3 653.2,463.8 653.8,463.1 653.8,474.4 654.1,474.9 654.3,460.2 654.4,475.6 654.5,465.3 654.7,469.9 654.8,460.4 654.8,476.6 654.9,477.8 655,463.2 655.1,460.1 655.2,463.6 655.2,474.4 655.3,463.9 655.3,454.4 655.3,452.6 655.4,450.5 655.5,453.5 655.6,465 655.6,451.7 655.6,471.3 655.6,468.6 655.7,458.2 655.8,458.2 655.8,450.4 655.8,464.4 655.8,449.7 655.8,461.6 655.8,399.2 655.9,450.1 655.9,448.9 655.9,457.4 655.9,399 655.9,399.1 655.9,453.1 655.9,399.2 655.9,456.2 656,457.8 656,454.2 656,454 656,454.9 656.1,452.8 656.1,462.5 656.1,454.4 656.2,484.2 656.2,453.9 656.2,399.1 656.2,451.2 656.2,453 656.3,426.3 656.3,426 656.3,427.4 656.3,428.6 656.3,403.9 656.3,427.1 656.3,437.3 656.3,413 656.3,447 656.3,419.6 656.3,404.2 656.3,432.8 656.3,409.4 656.3,416.4 656.3,432.7 656.3,417.3 656.3,408.8 656.3,446 656.3,436.3 656.3,423.4 656.3,439.2 656.3,406.3 656.3,425.5 656.3,414.2 656.3,401.5 656.3,457.5 656.3,400.2 656.3,412.6 656.3,402.4 656.3,432.2 656.3,430.8 656.3,430.2 656.3,405.7 656.3,418.7 656.3,436.9 656.3,438.9 656.3,399.5 656.3,400.6 656.3,420.5 656.3,423.6 656.3,425.7 656.3,456.5 656.3,430.5 656.3,403.4 656.3,442.9 656.3,433.1 656.3,412.4 656.3,444.1 656.3,420.3 656.3,401.7 656.3,406.9 656.3,399.1 656.3,422.8 656.3,416.3 656.3,399.7 656.3,438.9 656.3,412.1 656.3,403 656.3,429.7 656.3,415.5 656.3,429.7 656.3,448 656.3,400.2 656.3,399.2 656.3,402.9 656.3,424.8 656.3,422.3 656.3,412 656.3,399.6 656.3,434.4 656.3,424.6 656.3,402.8 656.3,405.6 656.3,407.5 656.3,411.3 656.3,438.2 656.3,443.8 656.3,437.3 656.3,439.2 656.3,435.9 656.3,399.2 656.3,442.4 656.3,407.7 656.3,414.2 656.3,407.4 656.3,405 656.3,399.1 656.3,411 656.3,429.5 656.3,415.8 656.3,421.8 656.3,440.2 656.3,422.3 656.3,433.6 656.3,431.2 656.3,418.4 656.3,410.6 656.3,409.7 656.3,408.4 656.3,423.9 656.3,418.1 656.3,419.5 656.3,429.2 656.3,424.8 656.3,399 656.3,412.9 656.3,441.2 656.3,424.7 656.3,425.8 656.3,434.7 656.3,420.5 656.3,422.5 656.3,400.2 656.3,406.1 656.3,420.7 656.3,399.1 656.3,438.7 656.3,399.7 656.3,401.3 656.3,434.6 656.3,419.3 656.3,411.4 656.3,431.5 656.3,452.2 656.3,412.1 656.3,435.5 656.3,414.4 656.3,414.7 656.3,461 656.3,399.9 656.3,416.9 656.3,421.6 656.3,399.8 656.3,400.5 656.3,416.8 656.3,428.9 656.3,427.7 656.3,410 656.3,416 656.3,417.1 656.3,433.5 656.3,399.5 656.3,406.3 656.3,409.9 656.3,428.6 656.3,405.1 656.3,441.6 656.3,415 416.6,487 433.3,492.3 479,471.5 470,461 510,460 535,460.3 421,447 425,445 437,470 441,474.5 404,452.3 413,465.5"/>
</g>
<path d="M179.5 1.4V365.4M179.5 393.7V522.8M273.5 1.4V365.4M273.5 393.7V522.8M367.5 1.4V365.4M367.5 393.7V522.8M461.5 1.4V365.4M461.5 393.7V522.8M556.5 1.4V365.4M556.5 393.7V522.8M650.5 1.4V365.4M650.5 393.7V522.8M90.7 335.5H683.2M90.7 287.5H683.2M90.7 238.5H683.2M90.7 190.5H683.2M90.7 142.5H683.2M90.7 94.5H683.2M90.7 46.5H683.2M90.7 431.5H683.2M90.7 480.5H683.2" stroke="#b4b4b4" stroke-width="1.25" fill="none"/>
<g clip-path="url(#ct)" fill="none" stroke-linejoin="round">
<polyline points="117.5,55.3 119.5,56.3 121.5,57.4 123.5,58.4 125.5,59.5 127.5,60.5 129.5,61.5 131.5,62.6 133.5,63.6 135.5,64.6 137.5,65.7 139.5,66.7 141.5,67.7 143.5,68.8 145.5,69.8 147.5,70.8 149.5,71.9 151.5,72.9 153.5,74.0 155.5,75.0 157.5,76.0 159.5,77.1 161.5,78.1 163.5,79.1 165.5,80.2 167.5,81.2 169.5,82.2 171.5,83.3 173.5,84.3 175.5,85.3 177.5,86.4 179.5,87.4 181.5,88.4 183.5,89.5 185.5,90.5 187.5,91.5 189.5,92.6 191.5,93.6 193.5,94.6 195.5,95.7 197.5,96.7 199.5,97.8 201.5,98.8 203.5,99.8 205.5,100.9 207.5,101.9 209.5,102.9 211.5,104.0 213.5,105.0 215.5,106.0 217.5,107.1 219.5,108.1 221.5,109.1 223.5,110.2 225.5,111.2 227.5,112.2 229.5,113.3 231.5,114.3 233.5,115.3 235.5,116.4 237.5,117.4 239.5,118.4 241.5,119.5 243.5,120.5 245.5,121.5 247.5,122.6 249.5,123.6 251.5,124.7 253.5,125.7 255.5,126.7 257.5,127.8 259.5,128.8 261.5,129.8 263.5,130.9 265.5,131.9 267.5,132.9 269.5,134.0 271.5,135.0 273.5,136.1 275.5,137.1 277.5,138.1 279.5,139.2 281.5,140.2 283.5,141.2 285.5,142.3 287.5,143.3 289.5,144.4 291.5,145.4 293.5,146.5 295.5,147.5 297.5,148.6 299.5,149.6 301.5,150.7 303.5,151.7 305.5,152.7 307.5,153.7 309.5,154.8 311.5,155.7 313.5,156.7 315.5,157.7 317.5,158.7 319.5,159.7 321.5,160.6 323.5,161.6 325.5,162.5 327.5,163.5 329.5,164.4 331.5,165.4 333.5,166.3 335.5,167.2 337.5,168.1 339.5,169.0 341.5,169.9 343.5,170.8 345.5,171.6 347.5,172.5 349.5,173.3 351.5,174.2 353.5,175.0 355.5,175.8 357.5,176.6 359.5,177.4 361.5,178.3 363.5,179.1 365.5,179.9 367.5,180.7 369.5,181.5 371.5,182.3 373.5,183.0 375.5,183.8 377.5,184.6 379.5,185.4 381.5,186.2 383.5,187.0 385.5,187.8 387.5,188.7 389.5,189.5 391.5,190.3 393.5,191.2 395.5,192.0 397.5,192.8 399.5,193.6 401.5,194.4 403.5,195.2 405.5,196.0 407.5,196.8 409.5,197.6 411.5,198.4 413.5,199.2 415.5,200.0 417.5,200.8 419.5,201.5 421.5,202.3 423.5,203.0 425.5,203.6 427.5,204.2 429.5,204.8 431.5,205.4 433.5,206.0 435.5,206.5 437.5,207.0 439.5,207.6 441.5,208.1 443.5,208.6 445.5,209.0 447.5,209.5 449.5,210.0 451.5,210.5 453.5,210.9 455.5,211.4 457.5,211.9 459.5,212.3 461.5,212.8 463.5,213.3 465.5,213.8 467.5,214.2 469.0,214.9 469.3,214.2 469.6,214.8 469.9,214.7 470.2,214.8 470.5,214.9 470.8,214.5 471.1,215.0 471.4,214.9 471.7,216.2 472.0,215.4 472.3,215.2 472.6,215.3 472.9,215.2 473.2,215.1 473.5,215.5 473.8,215.9 474.1,215.7 474.4,216.3 474.7,215.8 475.0,216.0 475.3,216.8 475.6,216.4 475.9,215.9 476.2,216.1 476.5,216.6 476.8,217.6 477.1,216.3 477.4,216.4 477.7,217.2 478.0,216.0 478.3,216.5 478.6,217.4 478.9,217.3 479.2,217.0 479.5,217.5 479.8,214.8 480.1,217.9 480.4,216.4 480.7,215.9 481.0,217.6 481.3,218.0 481.6,217.1 481.9,216.7 482.2,217.6 482.5,217.6 482.8,218.9 483.1,218.4 483.4,218.1 483.7,218.9 484.0,217.9 484.3,217.4 484.6,218.7 484.9,218.7 485.2,218.1 485.5,217.8 485.8,218.7 486.1,216.5 486.4,219.2 486.7,219.1 487.0,217.4 487.3,218.9 487.6,218.1 487.9,219.6 488.2,217.4 488.5,218.4 488.8,219.8 489.1,220.2 489.4,217.5 489.7,219.0 490.0,219.7 490.3,219.0 490.6,220.9 490.9,218.7 491.2,220.0 491.5,218.9 491.8,221.1 492.1,219.9 492.4,219.7 492.7,218.7 493.0,221.6 493.3,220.9 493.6,220.9 493.9,221.3 494.2,220.7 494.5,220.0 494.8,219.9 495.1,220.0 495.4,221.9 495.7,219.6 496.0,220.4 496.3,220.7 496.6,221.2 496.9,221.6 497.2,220.1 497.5,219.8 497.8,221.3 498.1,222.4 498.4,222.1 498.7,221.7 499.0,221.3 499.3,221.9 499.6,221.6 499.9,222.5 500.2,221.2 500.5,222.1 500.8,222.0 501.1,222.6 501.4,222.4 501.7,224.5 502.0,223.6 502.3,223.7 502.6,220.7 502.9,222.3 503.2,222.1 503.5,223.2 503.8,220.8 504.1,223.9 504.4,223.9 504.7,221.9 505.0,222.3 505.3,222.5 505.6,223.3 505.9,223.9 506.2,225.2 506.5,223.3 506.8,224.2 507.1,223.8 507.4,225.2 507.7,224.4 508.0,225.1 508.3,223.0 508.6,223.9 508.9,223.4 509.2,225.5 509.5,224.8 509.8,224.1 510.1,224.0 510.4,224.9 510.7,224.0 511.0,223.9 511.3,225.2 511.6,227.0 511.9,224.7 512.2,224.5 512.5,224.1 512.8,224.0 513.1,225.7 513.4,226.1 513.7,225.4 514.0,225.8 514.3,225.7 514.6,225.8 514.9,224.4 515.2,225.4 515.5,226.0 515.8,225.3 516.1,225.7 516.4,225.5 516.7,226.0 517.0,227.1 517.3,226.1 517.6,226.4 517.9,227.3 518.2,227.3 518.5,228.3 518.8,225.0 519.1,227.7 519.4,226.6 519.7,227.2 520.0,228.0 520.3,228.3 520.6,228.3 520.9,227.6 521.2,229.0 521.5,227.4 521.8,227.6 522.1,228.5 522.4,227.3 522.7,229.9 523.0,228.9 523.3,230.1 523.6,228.1 523.9,227.9 524.2,228.5 524.5,229.1 524.8,227.9 525.1,228.9 525.4,228.6 525.7,230.2 526.0,228.2 526.3,229.8 526.6,228.4 526.9,228.1 527.2,228.5 527.5,228.1 527.8,229.4 528.1,230.3 528.4,229.6 528.7,230.1 529.0,231.1 529.3,229.9 529.6,229.9 529.9,229.6 530.2,228.4 530.5,230.7 530.8,228.4 531.1,230.7 531.4,230.2 531.7,231.3 532.0,230.3 532.3,229.7 532.6,230.9 532.9,230.1 533.2,230.5 533.5,230.8 533.8,230.7 534.1,230.7 534.4,230.2 534.7,230.9 535.0,229.2 535.3,231.1 535.6,230.2 535.9,232.5 536.2,232.7 536.5,229.8 536.8,231.8 537.1,231.6 537.4,230.9 537.7,232.4 538.0,231.6 538.3,230.4 538.6,231.9 538.9,232.1 539.2,232.5 539.5,231.3 539.8,233.1 540.1,233.3 540.4,231.6 540.7,232.2 541.0,232.8 541.3,232.5 541.6,234.8 541.9,233.4 542.2,232.3 542.5,232.6 542.8,233.4 543.1,235.8 543.4,233.5 543.7,233.9 544.0,234.4 544.3,234.0 544.6,236.3 544.9,233.7 545.2,235.0 545.5,234.6 545.8,235.1 546.1,233.5 546.4,236.4 546.7,234.7 547.0,235.0 547.3,234.1 547.6,234.4 547.9,235.8 548.2,236.3 548.5,236.2 548.8,236.7 549.1,236.4 549.4,235.8 549.7,236.7 550.0,236.6 550.3,236.0 550.6,236.9 550.9,237.5 551.2,236.6 551.5,236.1 551.8,237.3 552.1,238.6 552.4,236.6 552.7,236.8 553.0,236.9 553.3,238.3 553.6,235.4 553.9,237.7 554.2,238.6 554.5,236.7 554.8,239.0 555.1,238.2 555.4,237.2 555.7,238.1 556.0,236.4 556.3,237.5 556.6,239.9 556.9,237.3 557.2,240.1 557.5,238.3 557.8,239.5 558.1,238.6 558.4,236.4 558.7,238.2 559.0,239.0 559.3,237.8 559.6,237.6 559.9,239.4 560.2,238.5 560.5,237.5 560.8,238.6 561.1,240.3 561.4,239.0 561.7,240.5 562.0,241.2 562.3,239.8 562.6,238.7 562.9,238.6 563.2,239.9 563.5,240.9 563.8,240.4 564.1,240.7 564.4,239.8 564.7,240.6 565.0,239.9 565.3,240.1 565.6,239.2 565.9,239.0 566.2,240.1 566.5,239.6 566.8,239.8 567.1,241.5 567.4,240.8 567.7,244.0 568.0,242.0 568.3,240.4 568.6,242.0 568.9,241.6 569.2,240.6 569.5,242.5 569.8,240.6 570.1,238.2 570.4,242.3 570.7,240.8 571.0,243.0 571.3,240.8 571.6,240.3 571.9,243.1 572.2,240.3 572.5,241.7 572.8,242.9 573.1,241.5 573.4,241.2 573.7,241.4 574.0,242.1 574.3,240.3 574.6,237.9 574.9,237.8 575.2,239.6 575.5,236.7 575.8,236.1 576.1,237.8 576.4,236.5 576.7,237.2 577.0,237.0 577.3,238.0 577.6,236.0 577.9,236.6 578.2,233.9 578.5,235.7 578.8,238.3 579.1,235.8 579.4,235.8 579.7,235.2 580.0,237.1 580.3,236.6 580.6,235.1 580.9,237.1 581.2,236.6 581.5,237.1 581.8,235.6 582.1,238.2 582.4,236.7 582.7,236.1 583.0,235.6 583.3,235.9 583.6,237.1 583.9,235.8 584.2,237.3 584.5,236.7 584.8,237.5 585.1,236.9 585.4,235.9 585.7,233.9 586.0,236.3 586.3,236.8 586.6,236.1 586.9,236.5 587.2,235.3 587.5,235.4 587.8,234.8 588.1,237.3 588.4,236.0 588.7,235.2 589.0,234.2 589.3,235.5 589.6,237.3 589.9,236.2 590.2,234.8 590.5,237.2 590.8,237.2 591.1,236.7 591.4,236.4 591.7,236.8 592.0,236.1 592.3,236.3 592.6,234.5 592.9,237.1 593.2,235.6 593.5,237.6 593.8,233.0 594.1,236.1 594.4,236.4 594.7,234.8 595.0,235.7 595.3,236.0 595.6,235.8 595.9,234.4 596.2,234.9 596.5,236.2 596.8,236.4 597.1,235.0 597.4,235.0 597.7,235.1 598.0,236.0 598.3,233.5 598.6,233.2 598.9,234.8 599.2,233.3 599.5,233.9 599.8,234.7 600.1,235.1 600.4,233.2 600.7,235.4 601.0,232.3 601.3,235.0 601.6,232.4 601.9,232.8 602.2,235.0 602.5,233.7 602.8,233.2 603.1,233.5 603.4,234.6 603.7,233.9 604.0,233.9 604.3,235.1 604.6,233.0 604.9,233.2 605.2,233.1 605.5,235.1 605.8,234.8 606.1,235.1 606.4,233.5 606.7,233.3 607.0,234.4 607.3,232.9 607.6,234.3 607.9,234.1 608.2,232.4 608.5,233.1 608.8,233.0 609.1,235.1 609.4,236.1 609.7,232.8 610.0,232.9 610.3,230.1 610.6,233.0 610.9,232.7 611.2,231.3 611.5,233.5 611.8,230.6 612.1,232.2 612.4,232.6 612.7,230.8 613.0,233.3 613.3,233.5 613.6,230.5 613.9,230.4 614.2,232.8 614.5,231.9 614.8,230.4 615.1,231.5 615.4,231.6 615.7,231.5 616.0,232.6 616.3,232.0 616.6,233.6 616.9,233.1 617.2,232.1 617.5,232.6 617.8,232.8 618.1,231.9 618.4,229.4 618.7,232.0 619.0,230.9 619.3,232.7 619.6,230.7 619.9,231.2 620.2,230.9 620.5,232.5 620.8,230.5 621.1,229.8 621.4,230.5 621.7,229.4 622.0,230.1 622.3,229.8 622.6,230.1 622.9,232.2 623.2,229.0 623.5,229.5 623.8,229.1 624.1,230.2 624.4,227.5 624.7,228.1 625.0,228.9 625.3,229.6 625.6,228.7 625.9,227.9 626.2,227.3 626.5,229.2 626.8,230.5 627.1,228.7 627.4,228.4 627.7,228.7 628.0,226.5 628.3,227.4 628.6,227.4 628.9,228.1 629.2,227.5 629.5,225.5 629.8,229.1 630.1,229.9 630.4,226.7 630.7,227.7 631.0,227.3 631.3,228.1 631.6,224.2 631.9,229.2 632.2,225.6 632.5,228.4 632.8,226.2 633.1,225.3 633.4,225.6 633.7,227.2 634.0,224.0 634.3,224.7 634.6,224.3 634.9,221.9 635.2,226.9 635.5,225.3 635.8,223.8 636.1,225.6 636.4,221.5 636.7,222.8 637.0,225.4 637.3,224.0 637.6,219.3 637.9,218.0 638.2,221.2 638.5,223.8 638.8,220.4 639.1,218.2 639.4,216.8 639.7,212.6 640.0,211.5 640.3,210.6 640.6,210.3 640.9,210.2 641.2,209.1 641.5,210.4 641.8,209.4 642.1,211.5 642.4,213.0 642.7,209.1 643.0,207.4 643.3,209.6 643.6,211.2 643.9,213.3 644.2,214.6 644.5,212.1 644.8,210.7 645.1,211.4 645.4,208.3 645.7,210.9 646.0,209.4 646.3,210.6 646.6,212.5 646.9,215.6 647.2,218.6 647.5,219.4 647.8,223.9 648.1,223.6 648.4,224.0 648.7,225.4 649.0,223.1 649.3,222.3 649.6,222.1 649.9,222.7 650.2,224.5 650.5,221.5 650.8,224.8 651.1,223.0 651.4,221.9 651.7,219.6 652.0,222.2 652.3,222.8 652.6,218.0 652.9,223.1 653.2,223.6 653.5,221.0 653.8,220.9 654.1,224.1 654.4,221.7 654.7,217.6 655.0,218.9 655.3,218.4 655.6,218.1 655.9,213.9 656.2,219.3 656.5,216.6 656.8,217.8 657.1,217.1" stroke="#e8a61c" stroke-width="2.6" stroke-opacity=".92"/>
<polyline points="117.5,18.0 119.5,19.0 121.5,20.1 123.5,21.1 125.5,22.2 127.5,23.2 129.5,24.2 131.5,25.3 133.5,26.3 135.5,27.3 137.5,28.4 139.5,29.4 141.5,30.4 143.5,31.5 145.5,32.5 147.5,33.5 149.5,34.6 151.5,35.6 153.5,36.7 155.5,37.7 157.5,38.7 159.5,39.8 161.5,40.8 163.5,41.8 165.5,42.9 167.5,43.9 169.5,44.9 171.5,46.0 173.5,47.0 175.5,48.0 177.5,49.1 179.5,50.1 181.5,51.1 183.5,52.2 185.5,53.2 187.5,54.2 189.5,55.3 191.5,56.3 193.5,57.3 195.5,58.4 197.5,59.4 199.5,60.5 201.5,61.5 203.5,62.5 205.5,63.6 207.5,64.6 209.5,65.6 211.5,66.7 213.5,67.7 215.5,68.7 217.5,69.8 219.5,70.8 221.5,71.8 223.5,72.9 225.5,73.9 227.5,74.9 229.5,76.0 231.5,77.0 233.5,78.0 235.5,79.1 237.5,80.1 239.5,81.1 241.5,82.2 243.5,83.2 245.5,84.2 247.5,85.3 249.5,86.3 251.5,87.4 253.5,88.4 255.5,89.4 257.5,90.5 259.5,91.5 261.5,92.5 263.5,93.6 265.5,94.6 267.5,95.6 269.5,96.7 271.5,97.7 273.5,98.8 275.5,99.8 277.5,100.8 279.5,101.9 281.5,102.9 283.5,103.9 285.5,105.0 287.5,106.0 289.5,107.1 291.5,108.1 293.5,109.2 295.5,110.2 297.5,111.3 299.5,112.3 301.5,113.4 303.5,114.4 305.5,115.4 307.5,116.4 309.5,117.5 311.5,118.4 313.5,119.4 315.5,120.4 317.5,121.4 319.5,122.4 321.5,123.3 323.5,124.3 325.5,125.2 327.5,126.2 329.5,127.1 331.5,128.1 333.5,129.0 335.5,129.9 337.5,130.8 339.5,131.7 341.5,132.6 343.5,133.5 345.5,134.3 347.5,135.2 349.5,136.0 351.5,136.9 353.5,137.7 355.5,138.5 357.5,139.3 359.5,140.1 361.5,141.0 363.5,141.8 365.5,142.6 367.5,143.4 369.5,144.2 371.5,145.0 373.5,145.7 375.5,146.5 377.5,147.3 379.5,148.1 381.5,148.9 383.5,149.7 385.5,150.5 387.5,151.4 389.5,152.2 391.5,153.0 393.5,153.9 395.5,154.7 397.5,155.5 399.5,156.3 401.5,157.1 403.5,157.9 405.5,158.7 407.5,159.5 409.5,160.3 411.5,161.1 413.5,161.9 415.5,162.7 417.5,163.5 419.5,164.2 421.5,165.0 423.5,165.7 425.5,166.3 427.5,166.9 429.5,167.5 431.5,168.1 433.5,168.7 435.5,169.2 437.5,169.7 439.5,170.3 441.5,170.8 443.5,171.3 445.5,171.7 447.5,172.2 449.5,172.7 451.5,173.2 453.5,173.6 455.5,174.1 457.5,174.6 459.5,175.0 461.5,175.5 463.5,176.0 465.5,176.5 467.5,176.9 469.0,177.4" stroke="#e63c46" stroke-opacity=".55" stroke-width="2.6" stroke-dasharray="10.3 4.4"/>
<polyline points="469.0,177.4 469.3,177.3 469.6,177.3 469.9,177.6 470.2,177.9 470.5,177.6 470.8,178.1 471.1,177.8 471.4,177.7 471.7,178.4 472.0,177.7 472.3,178.4 472.6,177.9 472.9,178.4 473.2,177.8 473.5,178.0 473.8,178.9 474.1,178.5 474.4,178.5 474.7,178.4 475.0,178.9 475.3,178.0 475.6,178.2 475.9,178.8 476.2,178.5 476.5,178.6 476.8,179.0 477.1,179.1 477.4,179.1 477.7,180.4 478.0,180.0 478.3,180.3 478.6,179.5 478.9,179.2 479.2,178.5 479.5,179.4 479.8,178.1 480.1,179.4 480.4,180.5 480.7,181.3 481.0,180.8 481.3,179.4 481.6,180.6 481.9,179.6 482.2,181.0 482.5,180.3 482.8,181.2 483.1,182.6 483.4,181.3 483.7,182.6 484.0,180.9 484.3,180.5 484.6,182.0 484.9,182.4 485.2,180.6 485.5,181.2 485.8,180.0 486.1,181.1 486.4,182.0 486.7,181.3 487.0,181.0 487.3,180.4 487.6,181.9 487.9,182.3 488.2,182.2 488.5,182.0 488.8,180.8 489.1,183.4 489.4,182.0 489.7,182.0 490.0,182.8 490.3,180.4 490.6,182.2 490.9,182.3 491.2,182.8 491.5,183.6 491.8,183.0 492.1,181.1 492.4,182.4 492.7,183.0 493.0,183.0 493.3,181.9 493.6,181.6 493.9,183.5 494.2,183.4 494.5,183.2 494.8,181.9 495.1,184.9 495.4,181.0 495.7,183.2 496.0,185.3 496.3,183.5 496.6,183.9 496.9,182.8 497.2,185.0 497.5,182.9 497.8,184.2 498.1,184.2 498.4,183.3 498.7,185.0 499.0,183.1 499.3,183.8 499.6,184.4 499.9,184.2 500.2,185.0 500.5,185.5 500.8,184.5 501.1,184.4 501.4,184.5 501.7,184.7 502.0,185.7 502.3,184.9 502.6,185.5 502.9,185.2 503.2,184.6 503.5,186.2 503.8,184.6 504.1,185.6 504.4,186.9 504.7,184.8 505.0,185.8 505.3,184.5 505.6,185.5 505.9,184.7 506.2,185.8 506.5,185.7 506.8,186.4 507.1,187.7 507.4,186.7 507.7,187.1 508.0,186.5 508.3,186.4 508.6,186.0 508.9,185.2 509.2,186.9 509.5,188.4 509.8,187.5 510.1,186.7 510.4,188.7 510.7,186.9 511.0,186.8 511.3,186.4 511.6,186.7 511.9,187.4 512.2,189.5 512.5,187.6 512.8,187.0 513.1,187.4 513.4,187.8 513.7,186.6 514.0,188.3 514.3,188.9 514.6,188.7 514.9,189.0 515.2,187.4 515.5,187.1 515.8,189.9 516.1,189.8 516.4,187.5 516.7,189.2 517.0,189.1 517.3,189.6 517.6,189.4 517.9,188.9 518.2,189.6 518.5,189.6 518.8,189.5 519.1,188.0 519.4,187.0 519.7,189.1 520.0,188.4 520.3,190.2 520.6,190.7 520.9,190.4 521.2,189.9 521.5,190.4 521.8,191.4 522.1,189.8 522.4,191.4 522.7,191.3 523.0,190.9 523.3,192.1 523.6,190.2 523.9,191.8 524.2,190.2 524.5,190.4 524.8,190.2 525.1,191.7 525.4,190.5 525.7,191.5 526.0,190.5 526.3,192.6 526.6,193.3 526.9,191.9 527.2,193.3 527.5,192.4 527.8,194.0 528.1,192.1 528.4,190.7 528.7,193.6 529.0,192.2 529.3,191.4 529.6,191.8 529.9,191.0 530.2,192.4 530.5,191.7 530.8,194.1 531.1,193.4 531.4,191.4 531.7,191.6 532.0,192.5 532.3,191.4 532.6,193.1 532.9,193.3 533.2,192.7 533.5,193.0 533.8,194.0 534.1,195.0 534.4,195.1 534.7,193.8 535.0,194.7 535.3,193.3 535.6,194.4 535.9,193.2 536.2,194.9 536.5,193.1 536.8,193.5 537.1,194.4 537.4,195.1 537.7,193.3 538.0,194.2 538.3,194.9 538.6,195.1 538.9,194.2 539.2,195.2 539.5,194.9 539.8,196.6 540.1,195.9 540.4,194.2 540.7,193.4 541.0,195.7 541.3,196.8 541.6,196.0 541.9,196.7 542.2,195.5 542.5,194.8 542.8,196.9 543.1,196.4 543.4,197.0 543.7,195.2 544.0,196.8 544.3,196.1 544.6,197.6 544.9,196.3 545.2,196.4 545.5,196.5 545.8,198.4 546.1,197.3 546.4,196.7 546.7,196.5 547.0,196.6 547.3,199.1 547.6,196.1 547.9,197.1 548.2,198.7 548.5,199.3 548.8,198.1 549.1,199.1 549.4,199.2 549.7,199.5 550.0,198.7 550.3,200.4 550.6,199.1 550.9,200.5 551.2,198.0 551.5,200.1 551.8,198.1 552.1,198.0 552.4,200.0 552.7,198.8 553.0,200.2 553.3,198.8 553.6,201.5 553.9,200.0 554.2,199.0 554.5,200.4 554.8,201.2 555.1,199.7 555.4,201.0 555.7,202.6 556.0,201.5 556.3,200.8 556.6,200.3 556.9,201.5 557.2,199.5 557.5,198.1 557.8,200.6 558.1,200.2 558.4,203.1 558.7,201.6 559.0,200.6 559.3,200.5 559.6,202.2 559.9,201.0 560.2,201.3 560.5,201.9 560.8,202.2 561.1,202.3 561.4,202.4 561.7,203.7 562.0,204.1 562.3,200.8 562.6,205.2 562.9,202.8 563.2,204.0 563.5,202.1 563.8,203.2 564.1,203.2 564.4,203.1 564.7,204.0 565.0,203.8 565.3,202.2 565.6,203.2 565.9,204.1 566.2,204.1 566.5,203.1 566.8,203.3 567.1,203.5 567.4,202.5 567.7,202.4 568.0,205.4 568.3,203.5 568.6,204.0 568.9,203.2 569.2,205.4 569.5,205.9 569.8,203.9 570.1,204.7 570.4,203.4 570.7,206.1 571.0,205.2 571.3,203.4 571.6,205.6 571.9,204.6 572.2,204.7 572.5,204.6 572.8,203.5 573.1,203.6 573.4,204.7 573.7,204.0 574.0,203.0 574.3,206.1 574.6,199.8 574.9,199.4 575.2,199.2 575.5,200.6 575.8,200.8 576.1,200.0 576.4,200.6 576.7,198.0 577.0,199.2 577.3,199.1 577.6,199.5 577.9,200.0 578.2,197.2 578.5,202.8 578.8,198.4 579.1,199.7 579.4,200.2 579.7,200.2 580.0,199.5 580.3,196.0 580.6,198.0 580.9,200.0 581.2,198.1 581.5,197.9 581.8,196.5 582.1,200.4 582.4,199.6 582.7,198.0 583.0,198.8 583.3,198.8 583.6,197.7 583.9,198.6 584.2,199.1 584.5,199.4 584.8,200.2 585.1,198.8 585.4,198.2 585.7,199.2 586.0,198.0 586.3,197.3 586.6,199.9 586.9,198.2 587.2,198.7 587.5,199.3 587.8,197.3 588.1,199.2 588.4,199.0 588.7,198.4 589.0,198.9 589.3,197.6 589.6,195.9 589.9,198.1 590.2,197.3 590.5,199.3 590.8,198.6 591.1,197.7 591.4,198.3 591.7,199.8 592.0,199.5 592.3,198.6 592.6,198.6 592.9,197.8 593.2,197.9 593.5,198.7 593.8,197.9 594.1,198.3 594.4,196.7 594.7,196.0 595.0,195.9 595.3,197.3 595.6,199.3 595.9,199.1 596.2,196.6 596.5,195.9 596.8,198.6 597.1,198.2 597.4,196.0 597.7,198.8 598.0,197.7 598.3,199.0 598.6,197.8 598.9,198.4 599.2,197.7 599.5,196.2 599.8,197.0 600.1,196.4 600.4,198.2 600.7,196.0 601.0,195.3 601.3,197.9 601.6,198.4 601.9,198.7 602.2,198.2 602.5,195.1 602.8,196.0 603.1,196.1 603.4,196.7 603.7,194.1 604.0,196.6 604.3,196.9 604.6,195.4 604.9,196.6 605.2,197.9 605.5,196.4 605.8,197.6 606.1,197.5 606.4,196.7 606.7,196.6 607.0,195.7 607.3,197.6 607.6,195.5 607.9,195.1 608.2,196.8 608.5,195.0 608.8,196.3 609.1,197.0 609.4,195.8 609.7,195.8 610.0,196.7 610.3,196.4 610.6,193.6 610.9,193.8 611.2,197.0 611.5,195.8 611.8,192.7 612.1,193.5 612.4,195.2 612.7,193.9 613.0,195.6 613.3,195.0 613.6,195.5 613.9,193.4 614.2,195.5 614.5,197.1 614.8,193.6 615.1,196.2 615.4,195.7 615.7,195.2 616.0,194.2 616.3,192.8 616.6,193.1 616.9,195.0 617.2,195.2 617.5,195.5 617.8,195.1 618.1,194.9 618.4,193.2 618.7,192.1 619.0,193.8 619.3,194.1 619.6,193.5 619.9,191.4 620.2,192.5 620.5,191.2 620.8,193.2 621.1,191.6 621.4,192.6 621.7,193.1 622.0,192.8 622.3,194.4 622.6,191.0 622.9,189.4 623.2,193.5 623.5,194.1 623.8,194.0 624.1,192.4 624.4,192.6 624.7,191.9 625.0,189.8 625.3,190.8 625.6,192.2 625.9,190.5 626.2,194.1 626.5,188.9 626.8,190.5 627.1,192.7 627.4,190.0 627.7,189.1 628.0,188.6 628.3,189.5 628.6,192.8 628.9,191.1 629.2,191.1 629.5,189.4 629.8,191.4 630.1,190.2 630.4,188.4 630.7,189.0 631.0,190.0 631.3,191.4 631.6,189.3 631.9,190.1 632.2,192.5 632.5,187.7 632.8,186.8 633.1,190.4 633.4,189.3 633.7,188.2 634.0,188.7 634.3,187.5 634.6,188.8 634.9,187.1 635.2,188.8 635.5,184.9 635.8,185.2 636.1,186.5 636.4,185.1 636.7,186.8 637.0,185.3 637.3,184.5 637.6,185.5 637.9,184.5 638.2,183.3 638.5,183.9 638.8,182.7 639.1,180.7 639.4,179.0 639.7,177.5 640.0,174.7 640.3,174.6 640.6,174.0 640.9,172.3 641.2,174.5 641.5,174.0 641.8,172.1 642.1,173.0 642.4,174.0 642.7,173.0 643.0,174.0 643.3,173.4 643.6,174.3 643.9,174.4 644.2,176.5 644.5,175.4 644.8,175.2 645.1,170.6 645.4,172.8 645.7,173.8 646.0,173.1 646.3,172.4 646.6,175.1 646.9,176.4 647.2,179.4 647.5,182.9 647.8,186.2 648.1,187.5 648.4,185.1 648.7,187.8 649.0,183.8 649.3,184.9 649.6,186.1 649.9,188.1 650.2,184.8 650.5,181.9 650.8,186.3 651.1,185.2 651.4,183.1 651.7,182.9 652.0,183.3 652.3,184.5 652.6,185.2 652.9,181.1 653.2,187.6 653.5,183.1 653.8,182.2 654.1,183.8 654.4,182.5 654.7,186.2 655.0,183.7 655.3,180.8 655.6,180.5 655.9,180.0 656.2,180.1 656.5,181.7 656.8,179.1 657.1,183.0" stroke="#e63c46" stroke-opacity=".42" stroke-width="2.5"/>
<polyline points="469.0,177.3 469.3,177.4 469.6,177.5 469.9,177.3 470.2,177.5 470.5,177.7 470.8,177.7 471.1,177.8 471.4,177.9 471.7,177.8 472.0,178.0 472.3,177.8 472.6,177.8 472.9,178.5 473.2,178.1 473.5,178.2 473.8,178.7 474.1,178.7 474.4,178.4 474.7,178.5 475.0,178.7 475.3,178.5 475.6,179.0 475.9,178.9 476.2,179.0 476.5,179.3 476.8,179.3 477.1,179.8 477.4,179.8 477.7,178.7 478.0,179.7 478.3,179.0 478.6,178.9 478.9,179.9 479.2,179.3 479.5,179.6 479.8,180.2 480.1,179.6 480.4,179.5 480.7,180.1 481.0,180.6 481.3,180.4 481.6,179.5 481.9,180.0 482.2,180.3 482.5,181.3 482.8,180.9 483.1,180.9 483.4,181.2 483.7,180.5 484.0,181.0 484.3,181.0 484.6,180.5 484.9,181.0 485.2,181.3 485.5,180.6 485.8,181.5 486.1,181.6 486.4,181.8 486.7,181.0 487.0,181.5 487.3,182.2 487.6,182.0 487.9,181.3 488.2,181.9 488.5,182.5 488.8,181.9 489.1,182.1 489.4,183.2 489.7,182.1 490.0,182.1 490.3,181.8 490.6,182.0 490.9,183.1 491.2,182.4 491.5,182.0 491.8,182.2 492.1,182.7 492.4,183.1 492.7,182.5 493.0,183.2 493.3,182.7 493.6,183.2 493.9,183.3 494.2,183.4 494.5,183.0 494.8,183.2 495.1,183.6 495.4,182.9 495.7,183.6 496.0,183.8 496.3,184.1 496.6,183.7 496.9,183.7 497.2,183.9 497.5,183.6 497.8,183.9 498.1,184.3 498.4,184.3 498.7,183.8 499.0,184.2 499.3,183.4 499.6,184.8 499.9,184.3 500.2,184.7 500.5,184.2 500.8,184.7 501.1,185.0 501.4,185.4 501.7,184.3 502.0,185.4 502.3,185.0 502.6,184.8 502.9,185.5 503.2,185.2 503.5,185.3 503.8,185.2 504.1,185.7 504.4,185.7 504.7,185.6 505.0,185.3 505.3,185.6 505.6,186.1 505.9,186.6 506.2,186.1 506.5,186.8 506.8,186.2 507.1,185.8 507.4,186.7 507.7,186.0 508.0,186.8 508.3,187.2 508.6,186.6 508.9,186.8 509.2,188.1 509.5,187.1 509.8,187.2 510.1,187.5 510.4,187.2 510.7,187.2 511.0,187.5 511.3,186.3 511.6,188.2 511.9,187.1 512.2,187.2 512.5,188.0 512.8,187.9 513.1,187.3 513.4,188.1 513.7,187.6 514.0,187.9 514.3,187.6 514.6,188.0 514.9,188.7 515.2,188.6 515.5,188.8 515.8,189.2 516.1,188.8 516.4,188.6 516.7,188.8 517.0,189.9 517.3,189.2 517.6,189.4 517.9,189.3 518.2,189.5 518.5,189.7 518.8,189.6 519.1,189.6 519.4,189.3 519.7,189.4 520.0,190.1 520.3,190.3 520.6,190.5 520.9,190.2 521.2,189.8 521.5,190.6 521.8,190.7 522.1,189.7 522.4,190.9 522.7,190.9 523.0,191.5 523.3,190.2 523.6,190.2 523.9,191.3 524.2,190.1 524.5,190.7 524.8,190.6 525.1,190.7 525.4,190.4 525.7,191.3 526.0,192.0 526.3,191.8 526.6,191.9 526.9,191.5 527.2,192.5 527.5,192.1 527.8,192.5 528.1,191.3 528.4,192.3 528.7,191.6 529.0,192.4 529.3,192.5 529.6,191.9 529.9,192.6 530.2,193.2 530.5,192.9 530.8,193.0 531.1,192.4 531.4,192.6 531.7,192.4 532.0,193.1 532.3,193.7 532.6,193.4 532.9,193.3 533.2,192.8 533.5,193.7 533.8,193.4 534.1,192.6 534.4,192.8 534.7,193.6 535.0,193.4 535.3,194.8 535.6,194.1 535.9,193.6 536.2,194.0 536.5,195.1 536.8,193.9 537.1,194.9 537.4,194.8 537.7,195.4 538.0,195.0 538.3,194.6 538.6,195.2 538.9,195.0 539.2,195.6 539.5,195.1 539.8,196.3 540.1,195.3 540.4,195.7 540.7,195.2 541.0,195.7 541.3,195.7 541.6,195.9 541.9,196.4 542.2,195.7 542.5,195.6 542.8,196.8 543.1,196.1 543.4,196.0 543.7,197.1 544.0,197.0 544.3,195.3 544.6,196.6 544.9,197.3 545.2,197.4 545.5,196.8 545.8,198.0 546.1,196.9 546.4,197.3 546.7,197.6 547.0,197.6 547.3,198.2 547.6,198.4 547.9,197.9 548.2,198.8 548.5,197.8 548.8,198.2 549.1,199.3 549.4,198.5 549.7,199.2 550.0,198.5 550.3,198.7 550.6,198.8 550.9,199.1 551.2,198.9 551.5,199.2 551.8,199.7 552.1,200.1 552.4,199.6 552.7,200.0 553.0,200.2 553.3,199.2 553.6,199.1 553.9,200.9 554.2,200.8 554.5,200.2 554.8,200.5 555.1,199.9 555.4,199.7 555.7,200.7 556.0,199.9 556.3,201.2 556.6,200.5 556.9,201.1 557.2,202.1 557.5,202.1 557.8,201.0 558.1,201.9 558.4,200.8 558.7,201.1 559.0,201.7 559.3,202.4 559.6,201.4 559.9,202.1 560.2,201.9 560.5,201.3 560.8,202.0 561.1,203.0 561.4,202.2 561.7,202.6 562.0,202.8 562.3,202.0 562.6,203.2 562.9,203.4 563.2,203.6 563.5,203.5 563.8,202.6 564.1,202.6 564.4,202.5 564.7,202.5 565.0,202.7 565.3,203.7 565.6,204.1 565.9,202.9 566.2,203.8 566.5,202.7 566.8,203.3 567.1,203.0 567.4,202.7 567.7,203.7 568.0,203.8 568.3,203.6 568.6,203.6 568.9,203.4 569.2,203.9 569.5,203.7 569.8,204.2 570.1,203.4 570.4,204.3 570.7,204.5 571.0,204.9 571.3,204.8 571.6,204.3 571.9,203.8 572.2,203.1 572.5,204.1 572.8,204.9 573.1,205.0 573.4,202.5 573.7,203.5 574.0,203.7 574.3,203.2 574.6,200.1 574.9,199.9 575.2,199.6 575.5,199.8 575.8,198.8 576.1,199.1 576.4,199.1 576.7,200.1 577.0,198.6 577.3,199.4 577.6,199.9 577.9,199.4 578.2,199.9 578.5,199.0 578.8,199.6 579.1,199.8 579.4,200.6 579.7,199.6 580.0,200.0 580.3,199.2 580.6,199.2 580.9,200.0 581.2,199.4 581.5,199.9 581.8,199.4 582.1,200.3 582.4,200.4 582.7,198.4 583.0,200.0 583.3,199.1 583.6,199.1 583.9,198.8 584.2,199.2 584.5,198.1 584.8,198.3 585.1,198.3 585.4,198.9 585.7,199.3 586.0,199.1 586.3,198.9 586.6,198.3 586.9,197.5 587.2,198.8 587.5,198.7 587.8,198.8 588.1,199.4 588.4,198.4 588.7,198.3 589.0,197.0 589.3,198.8 589.6,198.4 589.9,197.9 590.2,198.6 590.5,197.7 590.8,198.0 591.1,199.5 591.4,198.7 591.7,198.8 592.0,198.7 592.3,198.6 592.6,198.3 592.9,199.5 593.2,198.0 593.5,198.5 593.8,197.9 594.1,197.8 594.4,196.4 594.7,196.7 595.0,198.9 595.3,198.8 595.6,197.5 595.9,197.8 596.2,198.1 596.5,197.1 596.8,198.8 597.1,197.0 597.4,197.1 597.7,195.8 598.0,198.5 598.3,197.5 598.6,198.5 598.9,196.7 599.2,197.6 599.5,197.3 599.8,197.4 600.1,198.5 600.4,198.6 600.7,198.0 601.0,196.8 601.3,197.6 601.6,197.9 601.9,197.3 602.2,197.3 602.5,197.2 602.8,196.2 603.1,196.9 603.4,197.8 603.7,196.0 604.0,196.7 604.3,197.1 604.6,195.6 604.9,196.4 605.2,195.3 605.5,196.0 605.8,195.4 606.1,195.7 606.4,195.9 606.7,196.0 607.0,196.0 607.3,194.5 607.6,197.1 607.9,195.8 608.2,195.2 608.5,195.4 608.8,196.0 609.1,195.1 609.4,195.4 609.7,195.3 610.0,195.9 610.3,195.0 610.6,195.8 610.9,195.6 611.2,195.2 611.5,196.1 611.8,195.2 612.1,194.4 612.4,195.3 612.7,195.1 613.0,195.0 613.3,195.1 613.6,196.4 613.9,195.0 614.2,195.0 614.5,194.5 614.8,195.5 615.1,194.5 615.4,193.9 615.7,193.5 616.0,194.7 616.3,194.7 616.6,193.1 616.9,193.6 617.2,194.4 617.5,194.6 617.8,192.9 618.1,193.5 618.4,194.2 618.7,193.2 619.0,193.2 619.3,193.0 619.6,192.4 619.9,193.3 620.2,193.4 620.5,192.1 620.8,193.0 621.1,193.7 621.4,192.9 621.7,193.4 622.0,192.2 622.3,193.5 622.6,191.8 622.9,193.7 623.2,191.9 623.5,191.6 623.8,191.3 624.1,191.6 624.4,191.4 624.7,191.2 625.0,191.4 625.3,192.1 625.6,192.1 625.9,191.1 626.2,192.2 626.5,190.3 626.8,190.2 627.1,190.0 627.4,191.4 627.7,189.5 628.0,189.5 628.3,191.6 628.6,191.9 628.9,191.5 629.2,189.0 629.5,190.2 629.8,190.8 630.1,190.0 630.4,188.4 630.7,189.4 631.0,188.1 631.3,188.4 631.6,191.3 631.9,189.8 632.2,187.7 632.5,187.6 632.8,189.2 633.1,188.1 633.4,189.0 633.7,187.7 634.0,188.0 634.3,188.2 634.6,186.8 634.9,185.7 635.2,186.1 635.5,186.2 635.8,186.4 636.1,186.1 636.4,185.8 636.7,186.0 637.0,184.6 637.3,186.4 637.6,186.7 637.9,185.5 638.2,185.3 638.5,186.0 638.8,184.0 639.1,181.3 639.4,178.7 639.7,175.9 640.0,173.2 640.3,172.8 640.6,173.2 640.9,171.7 641.2,172.4 641.5,172.7 641.8,172.3 642.1,172.1 642.4,172.4 642.7,171.4 643.0,172.7 643.3,172.6 643.6,174.8 643.9,175.3 644.2,175.8 644.5,175.7 644.8,175.5 645.1,173.7 645.4,172.4 645.7,172.2 646.0,171.4 646.3,172.1 646.6,174.2 646.9,176.9 647.2,181.5 647.5,182.1 647.8,186.2 648.1,186.6 648.4,186.6 648.7,187.7 649.0,185.0 649.3,185.5 649.6,186.2 649.9,186.1 650.2,185.4 650.5,184.9 650.8,186.5 651.1,184.2 651.4,184.4 651.7,186.1 652.0,186.2 652.3,185.1 652.6,183.1 652.9,182.8 653.2,182.4 653.5,181.9 653.8,182.3 654.1,183.7 654.4,182.4 654.7,181.1 655.0,180.8 655.3,180.2 655.6,182.3 655.9,178.8 656.2,180.9 656.5,179.0 656.8,179.1 657.1,178.5" stroke="#e63c46" stroke-opacity=".3" stroke-width="2.3"/>
<path d="M638.7 185.5L639.5 173L643.4 173L644.3 175L645.2 172L647.2 172L647.7 185.5Z" fill="#e63c46" fill-opacity=".5"/>
<ellipse cx="646.2" cy="186.2" rx="3.1" ry="2.6" fill="#70405f" opacity=".8"/>
<path d="M636.6 190.2L638.8 184.8" stroke="#7a4a6c" stroke-width="1.6" opacity=".7"/>
</g>
<path d="M117.2 517.4H656" stroke="#f53535" stroke-width="2.6" stroke-dasharray="10.3 4.4" fill="none"/>
<rect x="90.7" y="1.4" width="592.5" height="364" fill="none" stroke="#747474" stroke-width="1.35"/>
<rect x="90.7" y="393.7" width="592.5" height="129.1" fill="none" stroke="#747474" stroke-width="1.35"/>
<path d="M179.5 365.4v6.3M273.5 365.4v6.3M367.5 365.4v6.3M461.5 365.4v6.3M556.5 365.4v6.3M650.5 365.4v6.3M179.5 522.8v6.3M273.5 522.8v6.3M367.5 522.8v6.3M461.5 522.8v6.3M556.5 522.8v6.3M650.5 522.8v6.3M90.7 335.5h-6.6M90.7 287.5h-6.6M90.7 238.5h-6.6M90.7 190.5h-6.6M90.7 142.5h-6.6M90.7 94.5h-6.6M90.7 46.5h-6.6M90.7 431.5h-6.6M90.7 480.5h-6.6" stroke="#111" stroke-width="1.3" fill="none"/>
<path d="M113.5 365.4v3.6M129.5 365.4v3.6M141.5 365.4v3.6M150.5 365.4v3.6M158.5 365.4v3.6M164.5 365.4v3.6M169.5 365.4v3.6M174.5 365.4v3.6M207.5 365.4v3.6M224.5 365.4v3.6M235.5 365.4v3.6M244.5 365.4v3.6M252.5 365.4v3.6M258.5 365.4v3.6M264.5 365.4v3.6M269.5 365.4v3.6M301.5 365.4v3.6M318.5 365.4v3.6M330.5 365.4v3.6M339.5 365.4v3.6M346.5 365.4v3.6M353.5 365.4v3.6M358.5 365.4v3.6M363.5 365.4v3.6M395.5 365.4v3.6M412.5 365.4v3.6M424.5 365.4v3.6M433.5 365.4v3.6M440.5 365.4v3.6M447.5 365.4v3.6M452.5 365.4v3.6M457.5 365.4v3.6M490.5 365.4v3.6M506.5 365.4v3.6M518.5 365.4v3.6M527.5 365.4v3.6M535.5 365.4v3.6M541.5 365.4v3.6M547.5 365.4v3.6M551.5 365.4v3.6M584.5 365.4v3.6M601.5 365.4v3.6M612.5 365.4v3.6M622.5 365.4v3.6M629.5 365.4v3.6M635.5 365.4v3.6M641.5 365.4v3.6M646.5 365.4v3.6M678.5 365.4v3.6M113.5 522.8v3.6M129.5 522.8v3.6M141.5 522.8v3.6M150.5 522.8v3.6M158.5 522.8v3.6M164.5 522.8v3.6M169.5 522.8v3.6M174.5 522.8v3.6M207.5 522.8v3.6M224.5 522.8v3.6M235.5 522.8v3.6M244.5 522.8v3.6M252.5 522.8v3.6M258.5 522.8v3.6M264.5 522.8v3.6M269.5 522.8v3.6M301.5 522.8v3.6M318.5 522.8v3.6M330.5 522.8v3.6M339.5 522.8v3.6M346.5 522.8v3.6M353.5 522.8v3.6M358.5 522.8v3.6M363.5 522.8v3.6M395.5 522.8v3.6M412.5 522.8v3.6M424.5 522.8v3.6M433.5 522.8v3.6M440.5 522.8v3.6M447.5 522.8v3.6M452.5 522.8v3.6M457.5 522.8v3.6M490.5 522.8v3.6M506.5 522.8v3.6M518.5 522.8v3.6M527.5 522.8v3.6M535.5 522.8v3.6M541.5 522.8v3.6M547.5 522.8v3.6M551.5 522.8v3.6M584.5 522.8v3.6M601.5 522.8v3.6M612.5 522.8v3.6M622.5 522.8v3.6M629.5 522.8v3.6M635.5 522.8v3.6M641.5 522.8v3.6M646.5 522.8v3.6M678.5 522.8v3.6M90.7 360.5h-3.6M90.7 354.5h-3.6M90.7 349.5h-3.6M90.7 345.5h-3.6M90.7 342.5h-3.6M90.7 339.5h-3.6M90.7 337.5h-3.6M90.7 320.5h-3.6M90.7 312.5h-3.6M90.7 306.5h-3.6M90.7 301.5h-3.6M90.7 297.5h-3.6M90.7 294.5h-3.6M90.7 291.5h-3.6M90.7 289.5h-3.6M90.7 272.5h-3.6M90.7 264.5h-3.6M90.7 257.5h-3.6M90.7 253.5h-3.6M90.7 249.5h-3.6M90.7 246.5h-3.6M90.7 243.5h-3.6M90.7 241.5h-3.6M90.7 224.5h-3.6M90.7 215.5h-3.6M90.7 209.5h-3.6M90.7 205.5h-3.6M90.7 201.5h-3.6M90.7 198.5h-3.6M90.7 195.5h-3.6M90.7 192.5h-3.6M90.7 176.5h-3.6M90.7 167.5h-3.6M90.7 161.5h-3.6M90.7 156.5h-3.6M90.7 153.5h-3.6M90.7 149.5h-3.6M90.7 147.5h-3.6M90.7 144.5h-3.6M90.7 127.5h-3.6M90.7 119.5h-3.6M90.7 113.5h-3.6M90.7 108.5h-3.6M90.7 104.5h-3.6M90.7 101.5h-3.6M90.7 98.5h-3.6M90.7 96.5h-3.6M90.7 79.5h-3.6M90.7 71.5h-3.6M90.7 65.5h-3.6M90.7 60.5h-3.6M90.7 56.5h-3.6M90.7 53.5h-3.6M90.7 50.5h-3.6M90.7 48.5h-3.6M90.7 31.5h-3.6M90.7 23.5h-3.6M90.7 16.5h-3.6M90.7 12.5h-3.6M90.7 8.5h-3.6M90.7 5.5h-3.6M90.7 2.5h-3.6" stroke="#111" stroke-width="1.1" fill="none"/>
<g font-family="Liberation Sans, sans-serif" stroke="#111" stroke-width=".3" opacity=".999">
<text transform="translate(79.3 332.30) scale(0.960 1)" font-size="14.8" text-anchor="end" fill="#111" >4</text>
<text transform="translate(59.8 332.30) scale(1.140 1)" font-size="14.8" text-anchor="start" fill="#111" >−</text>
<text transform="translate(58.6 346.30) scale(1.020 1)" font-size="21.6" text-anchor="end" fill="#111" >10</text>
<text transform="translate(79.3 284.10) scale(0.960 1)" font-size="14.8" text-anchor="end" fill="#111" >3</text>
<text transform="translate(59.8 284.10) scale(1.140 1)" font-size="14.8" text-anchor="start" fill="#111" >−</text>
<text transform="translate(58.6 298.10) scale(1.020 1)" font-size="21.6" text-anchor="end" fill="#111" >10</text>
<text transform="translate(79.3 235.90) scale(0.960 1)" font-size="14.8" text-anchor="end" fill="#111" >2</text>
<text transform="translate(59.8 235.90) scale(1.140 1)" font-size="14.8" text-anchor="start" fill="#111" >−</text>
<text transform="translate(58.6 249.90) scale(1.020 1)" font-size="21.6" text-anchor="end" fill="#111" >10</text>
<text transform="translate(79.3 187.70) scale(0.960 1)" font-size="14.8" text-anchor="end" fill="#111" >1</text>
<text transform="translate(59.8 187.70) scale(1.140 1)" font-size="14.8" text-anchor="start" fill="#111" >−</text>
<text transform="translate(58.6 201.70) scale(1.020 1)" font-size="21.6" text-anchor="end" fill="#111" >10</text>
<text transform="translate(79.3 139.50) scale(0.960 1)" font-size="14.8" text-anchor="end" fill="#111" >0</text>
<text transform="translate(69.4 153.50) scale(1.020 1)" font-size="21.6" text-anchor="end" fill="#111" >10</text>
<text transform="translate(79.3 91.30) scale(0.960 1)" font-size="14.8" text-anchor="end" fill="#111" >1</text>
<text transform="translate(69.4 105.30) scale(1.020 1)" font-size="21.6" text-anchor="end" fill="#111" >10</text>
<text transform="translate(79.3 43.10) scale(0.960 1)" font-size="14.8" text-anchor="end" fill="#111" >2</text>
<text transform="translate(69.4 57.10) scale(1.020 1)" font-size="21.6" text-anchor="end" fill="#111" >10</text>
<text transform="translate(79.3 428.50) scale(0.960 1)" font-size="14.8" text-anchor="end" fill="#111" >2</text>
<text transform="translate(59.8 428.50) scale(1.140 1)" font-size="14.8" text-anchor="start" fill="#111" >−</text>
<text transform="translate(58.6 442.50) scale(1.020 1)" font-size="21.6" text-anchor="end" fill="#111" >10</text>
<text transform="translate(79.3 477.10) scale(0.960 1)" font-size="14.8" text-anchor="end" fill="#111" >5</text>
<text transform="translate(59.8 477.10) scale(1.140 1)" font-size="14.8" text-anchor="start" fill="#111" >−</text>
<text transform="translate(58.6 491.10) scale(1.020 1)" font-size="21.6" text-anchor="end" fill="#111" >10</text>
<text transform="translate(181.1 555.50) scale(1.020 1)" font-size="21.6" text-anchor="end" fill="#111" >10</text>
<text transform="translate(202.3 541.60) scale(0.960 1)" font-size="14.8" text-anchor="end" fill="#111" >4</text>
<text transform="translate(182.6 541.60) scale(1.140 1)" font-size="14.8" text-anchor="start" fill="#111" >−</text>
<text transform="translate(275.36 555.50) scale(1.020 1)" font-size="21.6" text-anchor="end" fill="#111" >10</text>
<text transform="translate(296.56 541.60) scale(0.960 1)" font-size="14.8" text-anchor="end" fill="#111" >3</text>
<text transform="translate(276.86 541.60) scale(1.140 1)" font-size="14.8" text-anchor="start" fill="#111" >−</text>
<text transform="translate(369.62 555.50) scale(1.020 1)" font-size="21.6" text-anchor="end" fill="#111" >10</text>
<text transform="translate(390.82 541.60) scale(0.960 1)" font-size="14.8" text-anchor="end" fill="#111" >2</text>
<text transform="translate(371.12 541.60) scale(1.140 1)" font-size="14.8" text-anchor="start" fill="#111" >−</text>
<text transform="translate(463.88 555.50) scale(1.020 1)" font-size="21.6" text-anchor="end" fill="#111" >10</text>
<text transform="translate(485.08 541.60) scale(0.960 1)" font-size="14.8" text-anchor="end" fill="#111" >1</text>
<text transform="translate(465.38 541.60) scale(1.140 1)" font-size="14.8" text-anchor="start" fill="#111" >−</text>
<text transform="translate(564.94 555.50) scale(1.020 1)" font-size="21.6" text-anchor="end" fill="#111" >10</text>
<text transform="translate(573.94 541.60) scale(0.960 1)" font-size="14.8" text-anchor="end" fill="#111" >0</text>
<text transform="translate(659.2 555.50) scale(1.020 1)" font-size="21.6" text-anchor="end" fill="#111" >10</text>
<text transform="translate(668.2 541.60) scale(0.960 1)" font-size="14.8" text-anchor="end" fill="#111" >1</text>
<text transform="translate(387.9 585.90) scale(1.121 1)" font-size="24" text-anchor="middle" fill="#111" >Frequency f (Hz)</text>
<text transform="translate(19.5 183.70) rotate(-90) scale(1.096 1)" font-size="24" text-anchor="middle" fill="#111" >S(ω) (fT)</text>
<text transform="translate(20.4 457.70) rotate(-90) scale(0.997 1)" font-size="24" text-anchor="middle" fill="#111" >1 - p-value</text>
</g>
<rect x="321.7" y="11.8" width="351.5" height="91.4" fill="#fff" fill-opacity=".8" stroke="#949494" stroke-width="1.45"/>
<circle cx="336.1" cy="27.2" r="2" fill="#3e81b9" fill-opacity=".52" stroke="#3e81b9" stroke-opacity=".6" stroke-width="1.6"/>
<circle cx="344.3" cy="27.2" r="2" fill="#3e81b9" fill-opacity=".52" stroke="#3e81b9" stroke-opacity=".6" stroke-width="1.6"/>
<rect x="331" y="51" width="18.5" height="9.4" fill="#e8a61c" fill-opacity=".9"/>
<rect x="336" y="79.4" width="8.3" height="9.6" fill="#e63c46" fill-opacity=".55"/>
<g font-family="Liberation Sans, sans-serif" opacity=".999">
<text transform="translate(366.6 34.70) scale(1.030 1)" font-size="20.8" text-anchor="start" fill="#111" stroke="#111" stroke-width=".25">S(ω)</text>
<text transform="translate(367 62.20)" font-size="20.1" text-anchor="start" fill="#111" >technical noise</text>
<text transform="translate(366.6 91.00)" font-size="20.1" text-anchor="start" fill="#111" >95% global significance threshold</text>
</g>
</svg>
</body></html>
